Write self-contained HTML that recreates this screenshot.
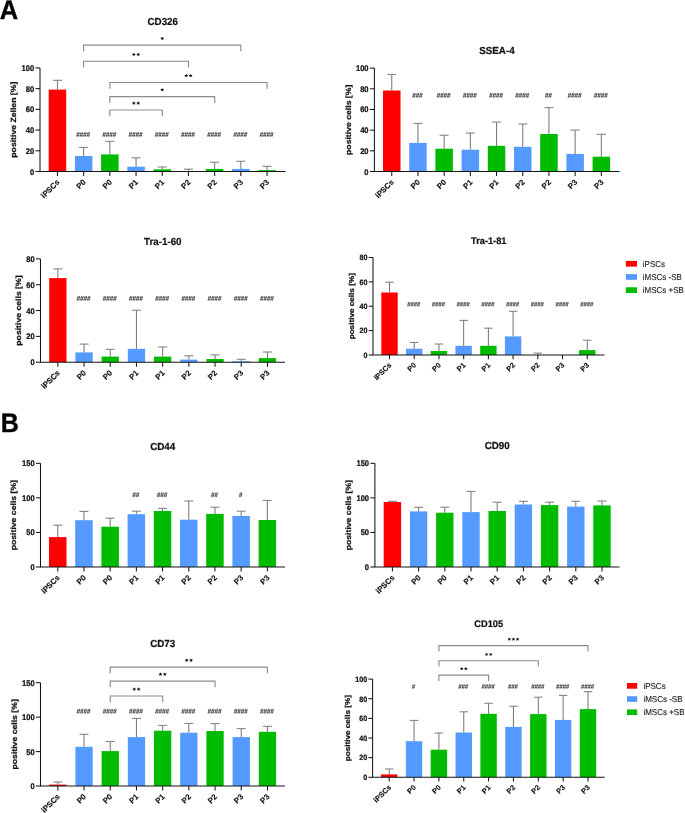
<!DOCTYPE html>
<html><head><meta charset="utf-8"><style>
html,body{margin:0;padding:0;background:#fff;width:685px;height:813px;overflow:hidden}
svg{display:block;will-change:transform}
text{font-family:"Liberation Sans",sans-serif;text-rendering:geometricPrecision}
</style></head><body>
<svg width="685" height="813" viewBox="0 0 685 813">
<rect width="685" height="813" fill="#fff"/>
<rect x="48.70" y="89.60" width="17.50" height="81.90" fill="#ff0000"/>
<line x1="57.45" y1="89.60" x2="57.45" y2="80.30" stroke="#6a6a6a" stroke-width="0.95"/>
<line x1="52.95" y1="80.30" x2="61.95" y2="80.30" stroke="#858585" stroke-width="1.1"/>
<line x1="57.45" y1="171.50" x2="57.45" y2="176.00" stroke="#151515" stroke-width="1.05"/>
<text transform="translate(60.05 182.70) rotate(-45)" text-anchor="end" font-size="7.80" font-weight="bold" fill="#111" stroke="#111" stroke-width="0.15">iPSCs</text>
<rect x="74.90" y="156.00" width="17.50" height="15.50" fill="#559bff"/>
<line x1="83.65" y1="156.00" x2="83.65" y2="147.40" stroke="#6a6a6a" stroke-width="0.95"/>
<line x1="79.15" y1="147.40" x2="88.15" y2="147.40" stroke="#858585" stroke-width="1.1"/>
<line x1="83.65" y1="171.50" x2="83.65" y2="176.00" stroke="#151515" stroke-width="1.05"/>
<text transform="translate(86.25 182.70) rotate(-45)" text-anchor="end" font-size="7.80" font-weight="bold" fill="#111" stroke="#111" stroke-width="0.15">P0</text>
<path d="M76.74 136.85L77.77 132.15M78.18 136.85L79.21 132.15M80.19 136.85L81.22 132.15M81.63 136.85L82.66 132.15M83.64 136.85L84.67 132.15M85.08 136.85L86.11 132.15M87.09 136.85L88.12 132.15M88.53 136.85L89.56 132.15" stroke="#3a3a3a" stroke-width="0.72" fill="none"/>
<path d="M76.65 133.50h3.10M76.21 135.50h3.10M80.10 133.50h3.10M79.66 135.50h3.10M83.55 133.50h3.10M83.11 135.50h3.10M87.00 133.50h3.10M86.56 135.50h3.10" stroke="#3a3a3a" stroke-width="0.55" fill="none"/>
<rect x="101.10" y="154.40" width="17.50" height="17.10" fill="#00bb00"/>
<line x1="109.85" y1="154.40" x2="109.85" y2="141.30" stroke="#6a6a6a" stroke-width="0.95"/>
<line x1="105.35" y1="141.30" x2="114.35" y2="141.30" stroke="#858585" stroke-width="1.1"/>
<line x1="109.85" y1="171.50" x2="109.85" y2="176.00" stroke="#151515" stroke-width="1.05"/>
<text transform="translate(112.45 182.70) rotate(-45)" text-anchor="end" font-size="7.80" font-weight="bold" fill="#111" stroke="#111" stroke-width="0.15">P0</text>
<path d="M102.94 136.85L103.97 132.15M104.38 136.85L105.41 132.15M106.39 136.85L107.42 132.15M107.83 136.85L108.86 132.15M109.84 136.85L110.87 132.15M111.28 136.85L112.31 132.15M113.29 136.85L114.32 132.15M114.73 136.85L115.76 132.15" stroke="#3a3a3a" stroke-width="0.72" fill="none"/>
<path d="M102.84 133.50h3.10M102.41 135.50h3.10M106.30 133.50h3.10M105.86 135.50h3.10M109.75 133.50h3.10M109.31 135.50h3.10M113.20 133.50h3.10M112.76 135.50h3.10" stroke="#3a3a3a" stroke-width="0.55" fill="none"/>
<rect x="127.30" y="166.70" width="17.50" height="4.80" fill="#559bff"/>
<line x1="136.05" y1="166.70" x2="136.05" y2="157.80" stroke="#6a6a6a" stroke-width="0.95"/>
<line x1="131.55" y1="157.80" x2="140.55" y2="157.80" stroke="#858585" stroke-width="1.1"/>
<line x1="136.05" y1="171.50" x2="136.05" y2="176.00" stroke="#151515" stroke-width="1.05"/>
<text transform="translate(138.65 182.70) rotate(-45)" text-anchor="end" font-size="7.80" font-weight="bold" fill="#111" stroke="#111" stroke-width="0.15">P1</text>
<path d="M129.14 136.85L130.17 132.15M130.58 136.85L131.61 132.15M132.59 136.85L133.62 132.15M134.03 136.85L135.06 132.15M136.04 136.85L137.07 132.15M137.48 136.85L138.51 132.15M139.49 136.85L140.52 132.15M140.93 136.85L141.96 132.15" stroke="#3a3a3a" stroke-width="0.72" fill="none"/>
<path d="M129.04 133.50h3.10M128.60 135.50h3.10M132.49 133.50h3.10M132.05 135.50h3.10M135.94 133.50h3.10M135.50 135.50h3.10M139.39 133.50h3.10M138.95 135.50h3.10" stroke="#3a3a3a" stroke-width="0.55" fill="none"/>
<rect x="153.50" y="169.30" width="17.50" height="2.20" fill="#00bb00"/>
<line x1="162.25" y1="169.30" x2="162.25" y2="167.00" stroke="#6a6a6a" stroke-width="0.95"/>
<line x1="157.75" y1="167.00" x2="166.75" y2="167.00" stroke="#858585" stroke-width="1.1"/>
<line x1="162.25" y1="171.50" x2="162.25" y2="176.00" stroke="#151515" stroke-width="1.05"/>
<text transform="translate(164.85 182.70) rotate(-45)" text-anchor="end" font-size="7.80" font-weight="bold" fill="#111" stroke="#111" stroke-width="0.15">P1</text>
<path d="M155.34 136.85L156.37 132.15M156.78 136.85L157.81 132.15M158.79 136.85L159.82 132.15M160.23 136.85L161.26 132.15M162.24 136.85L163.27 132.15M163.68 136.85L164.71 132.15M165.69 136.85L166.72 132.15M167.13 136.85L168.16 132.15" stroke="#3a3a3a" stroke-width="0.72" fill="none"/>
<path d="M155.24 133.50h3.10M154.80 135.50h3.10M158.69 133.50h3.10M158.25 135.50h3.10M162.14 133.50h3.10M161.70 135.50h3.10M165.59 133.50h3.10M165.15 135.50h3.10" stroke="#3a3a3a" stroke-width="0.55" fill="none"/>
<rect x="179.70" y="171.00" width="17.50" height="0.50" fill="#559bff"/>
<line x1="188.45" y1="171.00" x2="188.45" y2="169.20" stroke="#6a6a6a" stroke-width="0.95"/>
<line x1="183.95" y1="169.20" x2="192.95" y2="169.20" stroke="#858585" stroke-width="1.1"/>
<line x1="188.45" y1="171.50" x2="188.45" y2="176.00" stroke="#151515" stroke-width="1.05"/>
<text transform="translate(191.05 182.70) rotate(-45)" text-anchor="end" font-size="7.80" font-weight="bold" fill="#111" stroke="#111" stroke-width="0.15">P2</text>
<path d="M181.54 136.85L182.57 132.15M182.98 136.85L184.01 132.15M184.99 136.85L186.02 132.15M186.43 136.85L187.46 132.15M188.44 136.85L189.47 132.15M189.88 136.85L190.91 132.15M191.89 136.85L192.92 132.15M193.33 136.85L194.36 132.15" stroke="#3a3a3a" stroke-width="0.72" fill="none"/>
<path d="M181.44 133.50h3.10M181.00 135.50h3.10M184.89 133.50h3.10M184.45 135.50h3.10M188.34 133.50h3.10M187.90 135.50h3.10M191.79 133.50h3.10M191.35 135.50h3.10" stroke="#3a3a3a" stroke-width="0.55" fill="none"/>
<rect x="205.90" y="168.90" width="17.50" height="2.60" fill="#00bb00"/>
<line x1="214.65" y1="168.90" x2="214.65" y2="162.20" stroke="#6a6a6a" stroke-width="0.95"/>
<line x1="210.15" y1="162.20" x2="219.15" y2="162.20" stroke="#858585" stroke-width="1.1"/>
<line x1="214.65" y1="171.50" x2="214.65" y2="176.00" stroke="#151515" stroke-width="1.05"/>
<text transform="translate(217.25 182.70) rotate(-45)" text-anchor="end" font-size="7.80" font-weight="bold" fill="#111" stroke="#111" stroke-width="0.15">P2</text>
<path d="M207.74 136.85L208.77 132.15M209.18 136.85L210.21 132.15M211.19 136.85L212.22 132.15M212.63 136.85L213.66 132.15M214.64 136.85L215.67 132.15M216.08 136.85L217.11 132.15M218.09 136.85L219.12 132.15M219.53 136.85L220.56 132.15" stroke="#3a3a3a" stroke-width="0.72" fill="none"/>
<path d="M207.64 133.50h3.10M207.20 135.50h3.10M211.09 133.50h3.10M210.65 135.50h3.10M214.54 133.50h3.10M214.10 135.50h3.10M217.99 133.50h3.10M217.55 135.50h3.10" stroke="#3a3a3a" stroke-width="0.55" fill="none"/>
<rect x="232.10" y="168.90" width="17.50" height="2.60" fill="#559bff"/>
<line x1="240.85" y1="168.90" x2="240.85" y2="161.30" stroke="#6a6a6a" stroke-width="0.95"/>
<line x1="236.35" y1="161.30" x2="245.35" y2="161.30" stroke="#858585" stroke-width="1.1"/>
<line x1="240.85" y1="171.50" x2="240.85" y2="176.00" stroke="#151515" stroke-width="1.05"/>
<text transform="translate(243.45 182.70) rotate(-45)" text-anchor="end" font-size="7.80" font-weight="bold" fill="#111" stroke="#111" stroke-width="0.15">P3</text>
<path d="M233.94 136.85L234.97 132.15M235.38 136.85L236.41 132.15M237.39 136.85L238.42 132.15M238.83 136.85L239.86 132.15M240.84 136.85L241.87 132.15M242.28 136.85L243.31 132.15M244.29 136.85L245.32 132.15M245.73 136.85L246.76 132.15" stroke="#3a3a3a" stroke-width="0.72" fill="none"/>
<path d="M233.84 133.50h3.10M233.41 135.50h3.10M237.29 133.50h3.10M236.85 135.50h3.10M240.75 133.50h3.10M240.31 135.50h3.10M244.19 133.50h3.10M243.75 135.50h3.10" stroke="#3a3a3a" stroke-width="0.55" fill="none"/>
<rect x="258.30" y="170.10" width="17.50" height="1.40" fill="#00bb00"/>
<line x1="267.05" y1="170.10" x2="267.05" y2="166.30" stroke="#6a6a6a" stroke-width="0.95"/>
<line x1="262.55" y1="166.30" x2="271.55" y2="166.30" stroke="#858585" stroke-width="1.1"/>
<line x1="267.05" y1="171.50" x2="267.05" y2="176.00" stroke="#151515" stroke-width="1.05"/>
<text transform="translate(269.65 182.70) rotate(-45)" text-anchor="end" font-size="7.80" font-weight="bold" fill="#111" stroke="#111" stroke-width="0.15">P3</text>
<path d="M260.14 136.85L261.17 132.15M261.58 136.85L262.61 132.15M263.59 136.85L264.62 132.15M265.03 136.85L266.06 132.15M267.04 136.85L268.07 132.15M268.48 136.85L269.51 132.15M270.49 136.85L271.52 132.15M271.93 136.85L272.96 132.15" stroke="#3a3a3a" stroke-width="0.72" fill="none"/>
<path d="M260.05 133.50h3.10M259.60 135.50h3.10M263.50 133.50h3.10M263.05 135.50h3.10M266.94 133.50h3.10M266.50 135.50h3.10M270.40 133.50h3.10M269.95 135.50h3.10" stroke="#3a3a3a" stroke-width="0.55" fill="none"/>
<path d="M40.00 67.90 V171.50 H285.50" fill="none" stroke="#151515" stroke-width="1.05"/>
<line x1="35.50" y1="171.50" x2="40.00" y2="171.50" stroke="#151515" stroke-width="1.05"/>
<text transform="translate(34.20 174.50) scale(1 1.08)" text-anchor="end" font-size="7.60" font-weight="bold" fill="#111" stroke="#111" stroke-width="0.22">0</text>
<line x1="35.50" y1="150.78" x2="40.00" y2="150.78" stroke="#151515" stroke-width="1.05"/>
<text transform="translate(34.20 153.78) scale(1 1.08)" text-anchor="end" font-size="7.60" font-weight="bold" fill="#111" stroke="#111" stroke-width="0.22">20</text>
<line x1="35.50" y1="130.06" x2="40.00" y2="130.06" stroke="#151515" stroke-width="1.05"/>
<text transform="translate(34.20 133.06) scale(1 1.08)" text-anchor="end" font-size="7.60" font-weight="bold" fill="#111" stroke="#111" stroke-width="0.22">40</text>
<line x1="35.50" y1="109.34" x2="40.00" y2="109.34" stroke="#151515" stroke-width="1.05"/>
<text transform="translate(34.20 112.34) scale(1 1.08)" text-anchor="end" font-size="7.60" font-weight="bold" fill="#111" stroke="#111" stroke-width="0.22">60</text>
<line x1="35.50" y1="88.62" x2="40.00" y2="88.62" stroke="#151515" stroke-width="1.05"/>
<text transform="translate(34.20 91.62) scale(1 1.08)" text-anchor="end" font-size="7.60" font-weight="bold" fill="#111" stroke="#111" stroke-width="0.22">80</text>
<line x1="35.50" y1="67.90" x2="40.00" y2="67.90" stroke="#151515" stroke-width="1.05"/>
<text transform="translate(34.20 70.90) scale(1 1.08)" text-anchor="end" font-size="7.60" font-weight="bold" fill="#111" stroke="#111" stroke-width="0.22">100</text>
<text transform="translate(16.20 119.70) rotate(-90) scale(1.14 1)" text-anchor="middle" font-size="7.60" font-weight="bold" fill="#111" stroke="#111" stroke-width="0.22">positive Zellen [%]</text>
<text transform="translate(162.75 24.90) scale(1 1.04)" text-anchor="middle" font-size="9.80" font-weight="bold" fill="#111" stroke="#111" stroke-width="0.22">CD326</text>
<path d="M83.65 51.35 V45.15 H240.85 V51.35" fill="none" stroke="#8c8c8c" stroke-width="1.15"/>
<polygon points="162.25,36.57 162.84,37.71 164.29,37.84 163.20,38.66 163.51,39.88 162.25,39.25 160.99,39.88 161.30,38.66 160.21,37.84 161.66,37.71" fill="#111"/>
<path d="M83.65 67.45 V61.25 H188.45 V67.45" fill="none" stroke="#8c8c8c" stroke-width="1.15"/>
<polygon points="133.85,52.67 134.44,53.81 135.89,53.94 134.80,54.76 135.11,55.98 133.85,55.35 132.59,55.98 132.90,54.76 131.81,53.94 133.26,53.81" fill="#111"/>
<polygon points="138.25,52.67 138.84,53.81 140.29,53.94 139.20,54.76 139.51,55.98 138.25,55.35 136.99,55.98 137.30,54.76 136.21,53.94 137.66,53.81" fill="#111"/>
<path d="M109.85 88.65 V82.45 H267.05 V88.65" fill="none" stroke="#8c8c8c" stroke-width="1.15"/>
<polygon points="186.25,73.87 186.84,75.01 188.29,75.14 187.20,75.96 187.51,77.18 186.25,76.55 184.99,77.18 185.30,75.96 184.21,75.14 185.66,75.01" fill="#111"/>
<polygon points="190.65,73.87 191.24,75.01 192.69,75.14 191.60,75.96 191.91,77.18 190.65,76.55 189.39,77.18 189.70,75.96 188.61,75.14 190.06,75.01" fill="#111"/>
<path d="M109.85 102.75 V96.55 H214.65 V102.75" fill="none" stroke="#8c8c8c" stroke-width="1.15"/>
<polygon points="162.25,87.97 162.84,89.11 164.29,89.24 163.20,90.06 163.51,91.28 162.25,90.65 160.99,91.28 161.30,90.06 160.21,89.24 161.66,89.11" fill="#111"/>
<path d="M109.85 116.15 V109.95 H162.25 V116.15" fill="none" stroke="#8c8c8c" stroke-width="1.15"/>
<polygon points="133.85,101.37 134.44,102.51 135.89,102.64 134.80,103.46 135.11,104.68 133.85,104.05 132.59,104.68 132.90,103.46 131.81,102.64 133.26,102.51" fill="#111"/>
<polygon points="138.25,101.37 138.84,102.51 140.29,102.64 139.20,103.46 139.51,104.68 138.25,104.05 136.99,104.68 137.30,103.46 136.21,102.64 137.66,102.51" fill="#111"/>
<rect x="383.00" y="90.50" width="17.50" height="81.00" fill="#ff0000"/>
<line x1="391.75" y1="90.50" x2="391.75" y2="74.50" stroke="#6a6a6a" stroke-width="0.95"/>
<line x1="387.25" y1="74.50" x2="396.25" y2="74.50" stroke="#858585" stroke-width="1.1"/>
<line x1="391.75" y1="171.50" x2="391.75" y2="176.00" stroke="#151515" stroke-width="1.05"/>
<text transform="translate(394.35 182.70) rotate(-45)" text-anchor="end" font-size="7.80" font-weight="bold" fill="#111" stroke="#111" stroke-width="0.15">iPSCs</text>
<rect x="409.20" y="142.90" width="17.50" height="28.60" fill="#559bff"/>
<line x1="417.95" y1="142.90" x2="417.95" y2="123.40" stroke="#6a6a6a" stroke-width="0.95"/>
<line x1="413.45" y1="123.40" x2="422.45" y2="123.40" stroke="#858585" stroke-width="1.1"/>
<line x1="417.95" y1="171.50" x2="417.95" y2="176.00" stroke="#151515" stroke-width="1.05"/>
<text transform="translate(420.55 182.70) rotate(-45)" text-anchor="end" font-size="7.80" font-weight="bold" fill="#111" stroke="#111" stroke-width="0.15">P0</text>
<path d="M412.76 97.65L413.80 92.95M414.20 97.65L415.24 92.95M416.21 97.65L417.25 92.95M417.65 97.65L418.69 92.95M419.66 97.65L420.70 92.95M421.10 97.65L422.14 92.95" stroke="#3a3a3a" stroke-width="0.72" fill="none"/>
<path d="M412.67 94.30h3.10M412.23 96.30h3.10M416.12 94.30h3.10M415.68 96.30h3.10M419.57 94.30h3.10M419.13 96.30h3.10" stroke="#3a3a3a" stroke-width="0.55" fill="none"/>
<rect x="435.40" y="148.70" width="17.50" height="22.80" fill="#00bb00"/>
<line x1="444.15" y1="148.70" x2="444.15" y2="135.20" stroke="#6a6a6a" stroke-width="0.95"/>
<line x1="439.65" y1="135.20" x2="448.65" y2="135.20" stroke="#858585" stroke-width="1.1"/>
<line x1="444.15" y1="171.50" x2="444.15" y2="176.00" stroke="#151515" stroke-width="1.05"/>
<text transform="translate(446.75 182.70) rotate(-45)" text-anchor="end" font-size="7.80" font-weight="bold" fill="#111" stroke="#111" stroke-width="0.15">P0</text>
<path d="M437.24 97.65L438.27 92.95M438.68 97.65L439.71 92.95M440.69 97.65L441.72 92.95M442.13 97.65L443.16 92.95M444.14 97.65L445.17 92.95M445.58 97.65L446.61 92.95M447.59 97.65L448.62 92.95M449.03 97.65L450.06 92.95" stroke="#3a3a3a" stroke-width="0.72" fill="none"/>
<path d="M437.14 94.30h3.10M436.70 96.30h3.10M440.59 94.30h3.10M440.15 96.30h3.10M444.04 94.30h3.10M443.60 96.30h3.10M447.50 94.30h3.10M447.05 96.30h3.10" stroke="#3a3a3a" stroke-width="0.55" fill="none"/>
<rect x="461.60" y="149.70" width="17.50" height="21.80" fill="#559bff"/>
<line x1="470.35" y1="149.70" x2="470.35" y2="133.00" stroke="#6a6a6a" stroke-width="0.95"/>
<line x1="465.85" y1="133.00" x2="474.85" y2="133.00" stroke="#858585" stroke-width="1.1"/>
<line x1="470.35" y1="171.50" x2="470.35" y2="176.00" stroke="#151515" stroke-width="1.05"/>
<text transform="translate(472.95 182.70) rotate(-45)" text-anchor="end" font-size="7.80" font-weight="bold" fill="#111" stroke="#111" stroke-width="0.15">P1</text>
<path d="M463.44 97.65L464.47 92.95M464.88 97.65L465.91 92.95M466.89 97.65L467.92 92.95M468.33 97.65L469.36 92.95M470.34 97.65L471.37 92.95M471.78 97.65L472.81 92.95M473.79 97.65L474.82 92.95M475.23 97.65L476.26 92.95" stroke="#3a3a3a" stroke-width="0.72" fill="none"/>
<path d="M463.35 94.30h3.10M462.90 96.30h3.10M466.80 94.30h3.10M466.35 96.30h3.10M470.25 94.30h3.10M469.80 96.30h3.10M473.70 94.30h3.10M473.25 96.30h3.10" stroke="#3a3a3a" stroke-width="0.55" fill="none"/>
<rect x="487.80" y="145.80" width="17.50" height="25.70" fill="#00bb00"/>
<line x1="496.55" y1="145.80" x2="496.55" y2="122.10" stroke="#6a6a6a" stroke-width="0.95"/>
<line x1="492.05" y1="122.10" x2="501.05" y2="122.10" stroke="#858585" stroke-width="1.1"/>
<line x1="496.55" y1="171.50" x2="496.55" y2="176.00" stroke="#151515" stroke-width="1.05"/>
<text transform="translate(499.15 182.70) rotate(-45)" text-anchor="end" font-size="7.80" font-weight="bold" fill="#111" stroke="#111" stroke-width="0.15">P1</text>
<path d="M489.64 97.65L490.67 92.95M491.08 97.65L492.11 92.95M493.09 97.65L494.12 92.95M494.53 97.65L495.56 92.95M496.54 97.65L497.57 92.95M497.98 97.65L499.01 92.95M499.99 97.65L501.02 92.95M501.43 97.65L502.46 92.95" stroke="#3a3a3a" stroke-width="0.72" fill="none"/>
<path d="M489.55 94.30h3.10M489.10 96.30h3.10M493.00 94.30h3.10M492.55 96.30h3.10M496.44 94.30h3.10M496.00 96.30h3.10M499.90 94.30h3.10M499.45 96.30h3.10" stroke="#3a3a3a" stroke-width="0.55" fill="none"/>
<rect x="514.00" y="146.80" width="17.50" height="24.70" fill="#559bff"/>
<line x1="522.75" y1="146.80" x2="522.75" y2="124.00" stroke="#6a6a6a" stroke-width="0.95"/>
<line x1="518.25" y1="124.00" x2="527.25" y2="124.00" stroke="#858585" stroke-width="1.1"/>
<line x1="522.75" y1="171.50" x2="522.75" y2="176.00" stroke="#151515" stroke-width="1.05"/>
<text transform="translate(525.35 182.70) rotate(-45)" text-anchor="end" font-size="7.80" font-weight="bold" fill="#111" stroke="#111" stroke-width="0.15">P2</text>
<path d="M515.84 97.65L516.87 92.95M517.28 97.65L518.31 92.95M519.29 97.65L520.32 92.95M520.73 97.65L521.76 92.95M522.74 97.65L523.77 92.95M524.18 97.65L525.21 92.95M526.19 97.65L527.22 92.95M527.63 97.65L528.66 92.95" stroke="#3a3a3a" stroke-width="0.72" fill="none"/>
<path d="M515.75 94.30h3.10M515.31 96.30h3.10M519.20 94.30h3.10M518.76 96.30h3.10M522.65 94.30h3.10M522.21 96.30h3.10M526.10 94.30h3.10M525.66 96.30h3.10" stroke="#3a3a3a" stroke-width="0.55" fill="none"/>
<rect x="540.20" y="134.00" width="17.50" height="37.50" fill="#00bb00"/>
<line x1="548.95" y1="134.00" x2="548.95" y2="107.60" stroke="#6a6a6a" stroke-width="0.95"/>
<line x1="544.45" y1="107.60" x2="553.45" y2="107.60" stroke="#858585" stroke-width="1.1"/>
<line x1="548.95" y1="171.50" x2="548.95" y2="176.00" stroke="#151515" stroke-width="1.05"/>
<text transform="translate(551.55 182.70) rotate(-45)" text-anchor="end" font-size="7.80" font-weight="bold" fill="#111" stroke="#111" stroke-width="0.15">P2</text>
<path d="M545.49 97.65L546.52 92.95M546.93 97.65L547.96 92.95M548.94 97.65L549.97 92.95M550.38 97.65L551.41 92.95" stroke="#3a3a3a" stroke-width="0.72" fill="none"/>
<path d="M545.40 94.30h3.10M544.96 96.30h3.10M548.85 94.30h3.10M548.41 96.30h3.10" stroke="#3a3a3a" stroke-width="0.55" fill="none"/>
<rect x="566.40" y="153.90" width="17.50" height="17.60" fill="#559bff"/>
<line x1="575.15" y1="153.90" x2="575.15" y2="130.10" stroke="#6a6a6a" stroke-width="0.95"/>
<line x1="570.65" y1="130.10" x2="579.65" y2="130.10" stroke="#858585" stroke-width="1.1"/>
<line x1="575.15" y1="171.50" x2="575.15" y2="176.00" stroke="#151515" stroke-width="1.05"/>
<text transform="translate(577.75 182.70) rotate(-45)" text-anchor="end" font-size="7.80" font-weight="bold" fill="#111" stroke="#111" stroke-width="0.15">P3</text>
<path d="M568.24 97.65L569.27 92.95M569.68 97.65L570.71 92.95M571.69 97.65L572.72 92.95M573.13 97.65L574.16 92.95M575.14 97.65L576.17 92.95M576.58 97.65L577.61 92.95M578.59 97.65L579.62 92.95M580.03 97.65L581.06 92.95" stroke="#3a3a3a" stroke-width="0.72" fill="none"/>
<path d="M568.15 94.30h3.10M567.71 96.30h3.10M571.60 94.30h3.10M571.16 96.30h3.10M575.05 94.30h3.10M574.61 96.30h3.10M578.50 94.30h3.10M578.06 96.30h3.10" stroke="#3a3a3a" stroke-width="0.55" fill="none"/>
<rect x="592.60" y="156.70" width="17.50" height="14.80" fill="#00bb00"/>
<line x1="601.35" y1="156.70" x2="601.35" y2="134.30" stroke="#6a6a6a" stroke-width="0.95"/>
<line x1="596.85" y1="134.30" x2="605.85" y2="134.30" stroke="#858585" stroke-width="1.1"/>
<line x1="601.35" y1="171.50" x2="601.35" y2="176.00" stroke="#151515" stroke-width="1.05"/>
<text transform="translate(603.95 182.70) rotate(-45)" text-anchor="end" font-size="7.80" font-weight="bold" fill="#111" stroke="#111" stroke-width="0.15">P3</text>
<path d="M594.44 97.65L595.47 92.95M595.88 97.65L596.91 92.95M597.89 97.65L598.92 92.95M599.33 97.65L600.36 92.95M601.34 97.65L602.37 92.95M602.78 97.65L603.81 92.95M604.79 97.65L605.82 92.95M606.23 97.65L607.26 92.95" stroke="#3a3a3a" stroke-width="0.72" fill="none"/>
<path d="M594.35 94.30h3.10M593.91 96.30h3.10M597.80 94.30h3.10M597.36 96.30h3.10M601.25 94.30h3.10M600.81 96.30h3.10M604.70 94.30h3.10M604.26 96.30h3.10" stroke="#3a3a3a" stroke-width="0.55" fill="none"/>
<path d="M374.40 68.10 V171.50 H619.50" fill="none" stroke="#151515" stroke-width="1.05"/>
<line x1="369.90" y1="171.50" x2="374.40" y2="171.50" stroke="#151515" stroke-width="1.05"/>
<text transform="translate(368.60 174.50) scale(1 1.08)" text-anchor="end" font-size="7.60" font-weight="bold" fill="#111" stroke="#111" stroke-width="0.22">0</text>
<line x1="369.90" y1="150.82" x2="374.40" y2="150.82" stroke="#151515" stroke-width="1.05"/>
<text transform="translate(368.60 153.82) scale(1 1.08)" text-anchor="end" font-size="7.60" font-weight="bold" fill="#111" stroke="#111" stroke-width="0.22">20</text>
<line x1="369.90" y1="130.14" x2="374.40" y2="130.14" stroke="#151515" stroke-width="1.05"/>
<text transform="translate(368.60 133.14) scale(1 1.08)" text-anchor="end" font-size="7.60" font-weight="bold" fill="#111" stroke="#111" stroke-width="0.22">40</text>
<line x1="369.90" y1="109.46" x2="374.40" y2="109.46" stroke="#151515" stroke-width="1.05"/>
<text transform="translate(368.60 112.46) scale(1 1.08)" text-anchor="end" font-size="7.60" font-weight="bold" fill="#111" stroke="#111" stroke-width="0.22">60</text>
<line x1="369.90" y1="88.78" x2="374.40" y2="88.78" stroke="#151515" stroke-width="1.05"/>
<text transform="translate(368.60 91.78) scale(1 1.08)" text-anchor="end" font-size="7.60" font-weight="bold" fill="#111" stroke="#111" stroke-width="0.22">80</text>
<line x1="369.90" y1="68.10" x2="374.40" y2="68.10" stroke="#151515" stroke-width="1.05"/>
<text transform="translate(368.60 71.10) scale(1 1.08)" text-anchor="end" font-size="7.60" font-weight="bold" fill="#111" stroke="#111" stroke-width="0.22">100</text>
<text transform="translate(350.50 119.80) rotate(-90) scale(1.14 1)" text-anchor="middle" font-size="7.60" font-weight="bold" fill="#111" stroke="#111" stroke-width="0.22">positive cells [%]</text>
<text transform="translate(496.95 53.90) scale(1 1.04)" text-anchor="middle" font-size="9.80" font-weight="bold" fill="#111" stroke="#111" stroke-width="0.22">SSEA-4</text>
<rect x="49.20" y="278.10" width="17.30" height="84.10" fill="#ff0000"/>
<line x1="57.85" y1="278.10" x2="57.85" y2="268.90" stroke="#6a6a6a" stroke-width="0.95"/>
<line x1="53.35" y1="268.90" x2="62.35" y2="268.90" stroke="#858585" stroke-width="1.1"/>
<line x1="57.85" y1="362.20" x2="57.85" y2="366.70" stroke="#151515" stroke-width="1.05"/>
<text transform="translate(60.45 373.40) rotate(-45)" text-anchor="end" font-size="7.80" font-weight="bold" fill="#111" stroke="#111" stroke-width="0.15">iPSCs</text>
<rect x="75.40" y="352.40" width="17.30" height="9.80" fill="#559bff"/>
<line x1="84.05" y1="352.40" x2="84.05" y2="344.10" stroke="#6a6a6a" stroke-width="0.95"/>
<line x1="79.55" y1="344.10" x2="88.55" y2="344.10" stroke="#858585" stroke-width="1.1"/>
<line x1="84.05" y1="362.20" x2="84.05" y2="366.70" stroke="#151515" stroke-width="1.05"/>
<text transform="translate(86.65 373.40) rotate(-45)" text-anchor="end" font-size="7.80" font-weight="bold" fill="#111" stroke="#111" stroke-width="0.15">P0</text>
<path d="M77.14 300.75L78.17 296.05M78.58 300.75L79.61 296.05M80.59 300.75L81.62 296.05M82.03 300.75L83.06 296.05M84.04 300.75L85.07 296.05M85.48 300.75L86.51 296.05M87.49 300.75L88.52 296.05M88.93 300.75L89.96 296.05" stroke="#3a3a3a" stroke-width="0.72" fill="none"/>
<path d="M77.05 297.40h3.10M76.61 299.40h3.10M80.50 297.40h3.10M80.06 299.40h3.10M83.95 297.40h3.10M83.51 299.40h3.10M87.40 297.40h3.10M86.96 299.40h3.10" stroke="#3a3a3a" stroke-width="0.55" fill="none"/>
<rect x="101.60" y="356.60" width="17.30" height="5.60" fill="#00bb00"/>
<line x1="110.25" y1="356.60" x2="110.25" y2="349.30" stroke="#6a6a6a" stroke-width="0.95"/>
<line x1="105.75" y1="349.30" x2="114.75" y2="349.30" stroke="#858585" stroke-width="1.1"/>
<line x1="110.25" y1="362.20" x2="110.25" y2="366.70" stroke="#151515" stroke-width="1.05"/>
<text transform="translate(112.85 373.40) rotate(-45)" text-anchor="end" font-size="7.80" font-weight="bold" fill="#111" stroke="#111" stroke-width="0.15">P0</text>
<path d="M103.34 300.75L104.37 296.05M104.78 300.75L105.81 296.05M106.79 300.75L107.82 296.05M108.23 300.75L109.26 296.05M110.24 300.75L111.27 296.05M111.68 300.75L112.71 296.05M113.69 300.75L114.72 296.05M115.13 300.75L116.16 296.05" stroke="#3a3a3a" stroke-width="0.72" fill="none"/>
<path d="M103.25 297.40h3.10M102.81 299.40h3.10M106.70 297.40h3.10M106.26 299.40h3.10M110.15 297.40h3.10M109.71 299.40h3.10M113.60 297.40h3.10M113.16 299.40h3.10" stroke="#3a3a3a" stroke-width="0.55" fill="none"/>
<rect x="127.80" y="348.80" width="17.30" height="13.40" fill="#559bff"/>
<line x1="136.45" y1="348.80" x2="136.45" y2="310.20" stroke="#6a6a6a" stroke-width="0.95"/>
<line x1="131.95" y1="310.20" x2="140.95" y2="310.20" stroke="#858585" stroke-width="1.1"/>
<line x1="136.45" y1="362.20" x2="136.45" y2="366.70" stroke="#151515" stroke-width="1.05"/>
<text transform="translate(139.05 373.40) rotate(-45)" text-anchor="end" font-size="7.80" font-weight="bold" fill="#111" stroke="#111" stroke-width="0.15">P1</text>
<path d="M129.54 300.75L130.57 296.05M130.98 300.75L132.01 296.05M132.99 300.75L134.02 296.05M134.43 300.75L135.46 296.05M136.44 300.75L137.47 296.05M137.88 300.75L138.91 296.05M139.89 300.75L140.92 296.05M141.33 300.75L142.36 296.05" stroke="#3a3a3a" stroke-width="0.72" fill="none"/>
<path d="M129.44 297.40h3.10M129.00 299.40h3.10M132.89 297.40h3.10M132.45 299.40h3.10M136.34 297.40h3.10M135.90 299.40h3.10M139.79 297.40h3.10M139.35 299.40h3.10" stroke="#3a3a3a" stroke-width="0.55" fill="none"/>
<rect x="154.00" y="356.60" width="17.30" height="5.60" fill="#00bb00"/>
<line x1="162.65" y1="356.60" x2="162.65" y2="347.00" stroke="#6a6a6a" stroke-width="0.95"/>
<line x1="158.15" y1="347.00" x2="167.15" y2="347.00" stroke="#858585" stroke-width="1.1"/>
<line x1="162.65" y1="362.20" x2="162.65" y2="366.70" stroke="#151515" stroke-width="1.05"/>
<text transform="translate(165.25 373.40) rotate(-45)" text-anchor="end" font-size="7.80" font-weight="bold" fill="#111" stroke="#111" stroke-width="0.15">P1</text>
<path d="M155.74 300.75L156.77 296.05M157.18 300.75L158.21 296.05M159.19 300.75L160.22 296.05M160.63 300.75L161.66 296.05M162.64 300.75L163.67 296.05M164.08 300.75L165.11 296.05M166.09 300.75L167.12 296.05M167.53 300.75L168.56 296.05" stroke="#3a3a3a" stroke-width="0.72" fill="none"/>
<path d="M155.64 297.40h3.10M155.20 299.40h3.10M159.09 297.40h3.10M158.65 299.40h3.10M162.54 297.40h3.10M162.10 299.40h3.10M165.99 297.40h3.10M165.55 299.40h3.10" stroke="#3a3a3a" stroke-width="0.55" fill="none"/>
<rect x="180.20" y="359.60" width="17.30" height="2.60" fill="#559bff"/>
<line x1="188.85" y1="359.60" x2="188.85" y2="355.80" stroke="#6a6a6a" stroke-width="0.95"/>
<line x1="184.35" y1="355.80" x2="193.35" y2="355.80" stroke="#858585" stroke-width="1.1"/>
<line x1="188.85" y1="362.20" x2="188.85" y2="366.70" stroke="#151515" stroke-width="1.05"/>
<text transform="translate(191.45 373.40) rotate(-45)" text-anchor="end" font-size="7.80" font-weight="bold" fill="#111" stroke="#111" stroke-width="0.15">P2</text>
<path d="M181.94 300.75L182.97 296.05M183.38 300.75L184.41 296.05M185.39 300.75L186.42 296.05M186.83 300.75L187.86 296.05M188.84 300.75L189.87 296.05M190.28 300.75L191.31 296.05M192.29 300.75L193.32 296.05M193.73 300.75L194.76 296.05" stroke="#3a3a3a" stroke-width="0.72" fill="none"/>
<path d="M181.84 297.40h3.10M181.40 299.40h3.10M185.29 297.40h3.10M184.85 299.40h3.10M188.74 297.40h3.10M188.30 299.40h3.10M192.19 297.40h3.10M191.75 299.40h3.10" stroke="#3a3a3a" stroke-width="0.55" fill="none"/>
<rect x="206.40" y="359.00" width="17.30" height="3.20" fill="#00bb00"/>
<line x1="215.05" y1="359.00" x2="215.05" y2="354.90" stroke="#6a6a6a" stroke-width="0.95"/>
<line x1="210.55" y1="354.90" x2="219.55" y2="354.90" stroke="#858585" stroke-width="1.1"/>
<line x1="215.05" y1="362.20" x2="215.05" y2="366.70" stroke="#151515" stroke-width="1.05"/>
<text transform="translate(217.65 373.40) rotate(-45)" text-anchor="end" font-size="7.80" font-weight="bold" fill="#111" stroke="#111" stroke-width="0.15">P2</text>
<path d="M208.14 300.75L209.17 296.05M209.58 300.75L210.61 296.05M211.59 300.75L212.62 296.05M213.03 300.75L214.06 296.05M215.04 300.75L216.07 296.05M216.48 300.75L217.51 296.05M218.49 300.75L219.52 296.05M219.93 300.75L220.96 296.05" stroke="#3a3a3a" stroke-width="0.72" fill="none"/>
<path d="M208.04 297.40h3.10M207.60 299.40h3.10M211.49 297.40h3.10M211.05 299.40h3.10M214.94 297.40h3.10M214.50 299.40h3.10M218.39 297.40h3.10M217.95 299.40h3.10" stroke="#3a3a3a" stroke-width="0.55" fill="none"/>
<rect x="232.60" y="361.30" width="17.30" height="0.90" fill="#559bff"/>
<line x1="241.25" y1="361.30" x2="241.25" y2="359.30" stroke="#6a6a6a" stroke-width="0.95"/>
<line x1="236.75" y1="359.30" x2="245.75" y2="359.30" stroke="#858585" stroke-width="1.1"/>
<line x1="241.25" y1="362.20" x2="241.25" y2="366.70" stroke="#151515" stroke-width="1.05"/>
<text transform="translate(243.85 373.40) rotate(-45)" text-anchor="end" font-size="7.80" font-weight="bold" fill="#111" stroke="#111" stroke-width="0.15">P3</text>
<path d="M234.34 300.75L235.37 296.05M235.78 300.75L236.81 296.05M237.79 300.75L238.82 296.05M239.23 300.75L240.26 296.05M241.24 300.75L242.27 296.05M242.68 300.75L243.71 296.05M244.69 300.75L245.72 296.05M246.13 300.75L247.16 296.05" stroke="#3a3a3a" stroke-width="0.72" fill="none"/>
<path d="M234.25 297.40h3.10M233.81 299.40h3.10M237.69 297.40h3.10M237.25 299.40h3.10M241.15 297.40h3.10M240.71 299.40h3.10M244.59 297.40h3.10M244.16 299.40h3.10" stroke="#3a3a3a" stroke-width="0.55" fill="none"/>
<rect x="258.80" y="358.10" width="17.30" height="4.10" fill="#00bb00"/>
<line x1="267.45" y1="358.10" x2="267.45" y2="352.00" stroke="#6a6a6a" stroke-width="0.95"/>
<line x1="262.95" y1="352.00" x2="271.95" y2="352.00" stroke="#858585" stroke-width="1.1"/>
<line x1="267.45" y1="362.20" x2="267.45" y2="366.70" stroke="#151515" stroke-width="1.05"/>
<text transform="translate(270.05 373.40) rotate(-45)" text-anchor="end" font-size="7.80" font-weight="bold" fill="#111" stroke="#111" stroke-width="0.15">P3</text>
<path d="M260.54 300.75L261.57 296.05M261.98 300.75L263.01 296.05M263.99 300.75L265.02 296.05M265.43 300.75L266.46 296.05M267.44 300.75L268.47 296.05M268.88 300.75L269.91 296.05M270.89 300.75L271.92 296.05M272.33 300.75L273.36 296.05" stroke="#3a3a3a" stroke-width="0.72" fill="none"/>
<path d="M260.44 297.40h3.10M260.00 299.40h3.10M263.89 297.40h3.10M263.45 299.40h3.10M267.34 297.40h3.10M266.90 299.40h3.10M270.80 297.40h3.10M270.35 299.40h3.10" stroke="#3a3a3a" stroke-width="0.55" fill="none"/>
<path d="M40.50 258.90 V362.20 H285.00" fill="none" stroke="#151515" stroke-width="1.05"/>
<line x1="36.00" y1="362.20" x2="40.50" y2="362.20" stroke="#151515" stroke-width="1.05"/>
<text transform="translate(34.70 365.20) scale(1 1.08)" text-anchor="end" font-size="7.60" font-weight="bold" fill="#111" stroke="#111" stroke-width="0.22">0</text>
<line x1="36.00" y1="336.38" x2="40.50" y2="336.38" stroke="#151515" stroke-width="1.05"/>
<text transform="translate(34.70 339.38) scale(1 1.08)" text-anchor="end" font-size="7.60" font-weight="bold" fill="#111" stroke="#111" stroke-width="0.22">20</text>
<line x1="36.00" y1="310.55" x2="40.50" y2="310.55" stroke="#151515" stroke-width="1.05"/>
<text transform="translate(34.70 313.55) scale(1 1.08)" text-anchor="end" font-size="7.60" font-weight="bold" fill="#111" stroke="#111" stroke-width="0.22">40</text>
<line x1="36.00" y1="284.72" x2="40.50" y2="284.72" stroke="#151515" stroke-width="1.05"/>
<text transform="translate(34.70 287.72) scale(1 1.08)" text-anchor="end" font-size="7.60" font-weight="bold" fill="#111" stroke="#111" stroke-width="0.22">60</text>
<line x1="36.00" y1="258.90" x2="40.50" y2="258.90" stroke="#151515" stroke-width="1.05"/>
<text transform="translate(34.70 261.90) scale(1 1.08)" text-anchor="end" font-size="7.60" font-weight="bold" fill="#111" stroke="#111" stroke-width="0.22">80</text>
<text transform="translate(20.90 310.55) rotate(-90) scale(1.14 1)" text-anchor="middle" font-size="7.60" font-weight="bold" fill="#111" stroke="#111" stroke-width="0.22">positive cells [%]</text>
<text transform="translate(162.75 245.10) scale(1 1.04)" text-anchor="middle" font-size="9.80" font-weight="bold" fill="#111" stroke="#111" stroke-width="0.22">Tra-1-60</text>
<rect x="381.30" y="292.50" width="16.40" height="62.50" fill="#ff0000"/>
<line x1="389.50" y1="292.50" x2="389.50" y2="282.20" stroke="#6a6a6a" stroke-width="0.95"/>
<line x1="385.26" y1="282.20" x2="393.74" y2="282.20" stroke="#858585" stroke-width="1.1"/>
<line x1="389.50" y1="355.00" x2="389.50" y2="359.24" stroke="#151515" stroke-width="1.05"/>
<text transform="translate(391.95 365.56) rotate(-45)" text-anchor="end" font-size="7.36" font-weight="bold" fill="#111" stroke="#111" stroke-width="0.15">iPSCs</text>
<rect x="406.02" y="348.70" width="16.40" height="6.30" fill="#559bff"/>
<line x1="414.22" y1="348.70" x2="414.22" y2="342.50" stroke="#6a6a6a" stroke-width="0.95"/>
<line x1="409.98" y1="342.50" x2="418.46" y2="342.50" stroke="#858585" stroke-width="1.1"/>
<line x1="414.22" y1="355.00" x2="414.22" y2="359.24" stroke="#151515" stroke-width="1.05"/>
<text transform="translate(416.67 365.56) rotate(-45)" text-anchor="end" font-size="7.36" font-weight="bold" fill="#111" stroke="#111" stroke-width="0.15">P0</text>
<path d="M407.70 306.40L408.68 301.97M409.06 306.40L410.03 301.97M410.96 306.40L411.93 301.97M412.31 306.40L413.29 301.97M414.21 306.40L415.18 301.97M415.57 306.40L416.54 301.97M417.46 306.40L418.44 301.97M418.82 306.40L419.80 301.97" stroke="#3a3a3a" stroke-width="0.68" fill="none"/>
<path d="M407.61 303.25h2.92M407.20 305.13h2.92M410.87 303.25h2.92M410.45 305.13h2.92M414.12 303.25h2.92M413.71 305.13h2.92M417.37 303.25h2.92M416.96 305.13h2.92" stroke="#3a3a3a" stroke-width="0.52" fill="none"/>
<rect x="430.74" y="351.00" width="16.40" height="4.00" fill="#00bb00"/>
<line x1="438.94" y1="351.00" x2="438.94" y2="344.00" stroke="#6a6a6a" stroke-width="0.95"/>
<line x1="434.70" y1="344.00" x2="443.18" y2="344.00" stroke="#858585" stroke-width="1.1"/>
<line x1="438.94" y1="355.00" x2="438.94" y2="359.24" stroke="#151515" stroke-width="1.05"/>
<text transform="translate(441.39 365.56) rotate(-45)" text-anchor="end" font-size="7.36" font-weight="bold" fill="#111" stroke="#111" stroke-width="0.15">P0</text>
<path d="M432.42 306.40L433.40 301.97M433.78 306.40L434.75 301.97M435.68 306.40L436.65 301.97M437.03 306.40L438.01 301.97M438.93 306.40L439.90 301.97M440.29 306.40L441.26 301.97M442.18 306.40L443.16 301.97M443.54 306.40L444.52 301.97" stroke="#3a3a3a" stroke-width="0.68" fill="none"/>
<path d="M432.33 303.25h2.92M431.92 305.13h2.92M435.59 303.25h2.92M435.17 305.13h2.92M438.84 303.25h2.92M438.43 305.13h2.92M442.09 303.25h2.92M441.68 305.13h2.92" stroke="#3a3a3a" stroke-width="0.52" fill="none"/>
<rect x="455.46" y="345.80" width="16.40" height="9.20" fill="#559bff"/>
<line x1="463.66" y1="345.80" x2="463.66" y2="320.40" stroke="#6a6a6a" stroke-width="0.95"/>
<line x1="459.42" y1="320.40" x2="467.90" y2="320.40" stroke="#858585" stroke-width="1.1"/>
<line x1="463.66" y1="355.00" x2="463.66" y2="359.24" stroke="#151515" stroke-width="1.05"/>
<text transform="translate(466.11 365.56) rotate(-45)" text-anchor="end" font-size="7.36" font-weight="bold" fill="#111" stroke="#111" stroke-width="0.15">P1</text>
<path d="M457.14 306.40L458.12 301.97M458.50 306.40L459.47 301.97M460.40 306.40L461.37 301.97M461.75 306.40L462.73 301.97M463.65 306.40L464.62 301.97M465.01 306.40L465.98 301.97M466.90 306.40L467.88 301.97M468.26 306.40L469.24 301.97" stroke="#3a3a3a" stroke-width="0.68" fill="none"/>
<path d="M457.05 303.25h2.92M456.64 305.13h2.92M460.31 303.25h2.92M459.89 305.13h2.92M463.56 303.25h2.92M463.15 305.13h2.92M466.81 303.25h2.92M466.40 305.13h2.92" stroke="#3a3a3a" stroke-width="0.52" fill="none"/>
<rect x="480.18" y="345.80" width="16.40" height="9.20" fill="#00bb00"/>
<line x1="488.38" y1="345.80" x2="488.38" y2="328.20" stroke="#6a6a6a" stroke-width="0.95"/>
<line x1="484.14" y1="328.20" x2="492.62" y2="328.20" stroke="#858585" stroke-width="1.1"/>
<line x1="488.38" y1="355.00" x2="488.38" y2="359.24" stroke="#151515" stroke-width="1.05"/>
<text transform="translate(490.83 365.56) rotate(-45)" text-anchor="end" font-size="7.36" font-weight="bold" fill="#111" stroke="#111" stroke-width="0.15">P1</text>
<path d="M481.86 306.40L482.84 301.97M483.22 306.40L484.19 301.97M485.12 306.40L486.09 301.97M486.47 306.40L487.45 301.97M488.37 306.40L489.34 301.97M489.73 306.40L490.70 301.97M491.62 306.40L492.60 301.97M492.98 306.40L493.96 301.97" stroke="#3a3a3a" stroke-width="0.68" fill="none"/>
<path d="M481.77 303.25h2.92M481.36 305.13h2.92M485.03 303.25h2.92M484.61 305.13h2.92M488.28 303.25h2.92M487.87 305.13h2.92M491.53 303.25h2.92M491.12 305.13h2.92" stroke="#3a3a3a" stroke-width="0.52" fill="none"/>
<rect x="504.90" y="336.40" width="16.40" height="18.60" fill="#559bff"/>
<line x1="513.10" y1="336.40" x2="513.10" y2="311.30" stroke="#6a6a6a" stroke-width="0.95"/>
<line x1="508.86" y1="311.30" x2="517.34" y2="311.30" stroke="#858585" stroke-width="1.1"/>
<line x1="513.10" y1="355.00" x2="513.10" y2="359.24" stroke="#151515" stroke-width="1.05"/>
<text transform="translate(515.55 365.56) rotate(-45)" text-anchor="end" font-size="7.36" font-weight="bold" fill="#111" stroke="#111" stroke-width="0.15">P2</text>
<path d="M506.58 306.40L507.56 301.97M507.94 306.40L508.91 301.97M509.84 306.40L510.81 301.97M511.19 306.40L512.17 301.97M513.09 306.40L514.06 301.97M514.45 306.40L515.42 301.97M516.34 306.40L517.32 301.97M517.70 306.40L518.68 301.97" stroke="#3a3a3a" stroke-width="0.68" fill="none"/>
<path d="M506.49 303.25h2.92M506.08 305.13h2.92M509.75 303.25h2.92M509.33 305.13h2.92M513.00 303.25h2.92M512.59 305.13h2.92M516.25 303.25h2.92M515.84 305.13h2.92" stroke="#3a3a3a" stroke-width="0.52" fill="none"/>
<line x1="537.82" y1="355.00" x2="537.82" y2="353.10" stroke="#6a6a6a" stroke-width="0.95"/>
<line x1="533.58" y1="353.10" x2="542.06" y2="353.10" stroke="#858585" stroke-width="1.1"/>
<line x1="537.82" y1="355.00" x2="537.82" y2="359.24" stroke="#151515" stroke-width="1.05"/>
<text transform="translate(540.27 365.56) rotate(-45)" text-anchor="end" font-size="7.36" font-weight="bold" fill="#111" stroke="#111" stroke-width="0.15">P2</text>
<path d="M531.30 306.40L532.28 301.97M532.66 306.40L533.63 301.97M534.56 306.40L535.53 301.97M535.91 306.40L536.89 301.97M537.81 306.40L538.78 301.97M539.17 306.40L540.14 301.97M541.06 306.40L542.04 301.97M542.42 306.40L543.40 301.97" stroke="#3a3a3a" stroke-width="0.68" fill="none"/>
<path d="M531.21 303.25h2.92M530.80 305.13h2.92M534.47 303.25h2.92M534.05 305.13h2.92M537.72 303.25h2.92M537.31 305.13h2.92M540.97 303.25h2.92M540.56 305.13h2.92" stroke="#3a3a3a" stroke-width="0.52" fill="none"/>
<line x1="562.54" y1="355.00" x2="562.54" y2="359.24" stroke="#151515" stroke-width="1.05"/>
<text transform="translate(564.99 365.56) rotate(-45)" text-anchor="end" font-size="7.36" font-weight="bold" fill="#111" stroke="#111" stroke-width="0.15">P3</text>
<path d="M556.02 306.40L557.00 301.97M557.38 306.40L558.35 301.97M559.28 306.40L560.25 301.97M560.63 306.40L561.61 301.97M562.53 306.40L563.50 301.97M563.89 306.40L564.86 301.97M565.78 306.40L566.76 301.97M567.14 306.40L568.12 301.97" stroke="#3a3a3a" stroke-width="0.68" fill="none"/>
<path d="M555.93 303.25h2.92M555.52 305.13h2.92M559.19 303.25h2.92M558.77 305.13h2.92M562.44 303.25h2.92M562.03 305.13h2.92M565.69 303.25h2.92M565.28 305.13h2.92" stroke="#3a3a3a" stroke-width="0.52" fill="none"/>
<rect x="579.06" y="350.10" width="16.40" height="4.90" fill="#00bb00"/>
<line x1="587.26" y1="350.10" x2="587.26" y2="340.20" stroke="#6a6a6a" stroke-width="0.95"/>
<line x1="583.02" y1="340.20" x2="591.50" y2="340.20" stroke="#858585" stroke-width="1.1"/>
<line x1="587.26" y1="355.00" x2="587.26" y2="359.24" stroke="#151515" stroke-width="1.05"/>
<text transform="translate(589.71 365.56) rotate(-45)" text-anchor="end" font-size="7.36" font-weight="bold" fill="#111" stroke="#111" stroke-width="0.15">P3</text>
<path d="M580.74 306.40L581.72 301.97M582.10 306.40L583.07 301.97M584.00 306.40L584.97 301.97M585.35 306.40L586.33 301.97M587.25 306.40L588.22 301.97M588.61 306.40L589.58 301.97M590.50 306.40L591.48 301.97M591.86 306.40L592.84 301.97" stroke="#3a3a3a" stroke-width="0.68" fill="none"/>
<path d="M580.65 303.25h2.92M580.24 305.13h2.92M583.91 303.25h2.92M583.49 305.13h2.92M587.16 303.25h2.92M586.75 305.13h2.92M590.41 303.25h2.92M590.00 305.13h2.92" stroke="#3a3a3a" stroke-width="0.52" fill="none"/>
<path d="M373.00 257.50 V355.00 H604.50" fill="none" stroke="#151515" stroke-width="1.05"/>
<line x1="368.76" y1="355.00" x2="373.00" y2="355.00" stroke="#151515" stroke-width="1.05"/>
<text transform="translate(367.53 357.83) scale(1 1.08)" text-anchor="end" font-size="7.17" font-weight="bold" fill="#111" stroke="#111" stroke-width="0.22">0</text>
<line x1="368.76" y1="330.62" x2="373.00" y2="330.62" stroke="#151515" stroke-width="1.05"/>
<text transform="translate(367.53 333.45) scale(1 1.08)" text-anchor="end" font-size="7.17" font-weight="bold" fill="#111" stroke="#111" stroke-width="0.22">20</text>
<line x1="368.76" y1="306.25" x2="373.00" y2="306.25" stroke="#151515" stroke-width="1.05"/>
<text transform="translate(367.53 309.08) scale(1 1.08)" text-anchor="end" font-size="7.17" font-weight="bold" fill="#111" stroke="#111" stroke-width="0.22">40</text>
<line x1="368.76" y1="281.88" x2="373.00" y2="281.88" stroke="#151515" stroke-width="1.05"/>
<text transform="translate(367.53 284.70) scale(1 1.08)" text-anchor="end" font-size="7.17" font-weight="bold" fill="#111" stroke="#111" stroke-width="0.22">60</text>
<line x1="368.76" y1="257.50" x2="373.00" y2="257.50" stroke="#151515" stroke-width="1.05"/>
<text transform="translate(367.53 260.33) scale(1 1.08)" text-anchor="end" font-size="7.17" font-weight="bold" fill="#111" stroke="#111" stroke-width="0.22">80</text>
<text transform="translate(354.39 306.25) rotate(-90) scale(1.14 1)" text-anchor="middle" font-size="7.17" font-weight="bold" fill="#111" stroke="#111" stroke-width="0.22">positive cells [%]</text>
<text transform="translate(488.75 244.40) scale(1 1.04)" text-anchor="middle" font-size="9.24" font-weight="bold" fill="#111" stroke="#111" stroke-width="0.22">Tra-1-81</text>
<rect x="49.00" y="537.10" width="17.50" height="29.90" fill="#ff0000"/>
<line x1="57.75" y1="537.10" x2="57.75" y2="525.20" stroke="#6a6a6a" stroke-width="0.95"/>
<line x1="53.25" y1="525.20" x2="62.25" y2="525.20" stroke="#858585" stroke-width="1.1"/>
<line x1="57.75" y1="567.00" x2="57.75" y2="571.50" stroke="#151515" stroke-width="1.05"/>
<text transform="translate(60.35 578.20) rotate(-45)" text-anchor="end" font-size="7.80" font-weight="bold" fill="#111" stroke="#111" stroke-width="0.15">iPSCs</text>
<rect x="75.20" y="520.20" width="17.50" height="46.80" fill="#559bff"/>
<line x1="83.95" y1="520.20" x2="83.95" y2="511.40" stroke="#6a6a6a" stroke-width="0.95"/>
<line x1="79.45" y1="511.40" x2="88.45" y2="511.40" stroke="#858585" stroke-width="1.1"/>
<line x1="83.95" y1="567.00" x2="83.95" y2="571.50" stroke="#151515" stroke-width="1.05"/>
<text transform="translate(86.55 578.20) rotate(-45)" text-anchor="end" font-size="7.80" font-weight="bold" fill="#111" stroke="#111" stroke-width="0.15">P0</text>
<rect x="101.40" y="526.70" width="17.50" height="40.30" fill="#00bb00"/>
<line x1="110.15" y1="526.70" x2="110.15" y2="518.20" stroke="#6a6a6a" stroke-width="0.95"/>
<line x1="105.65" y1="518.20" x2="114.65" y2="518.20" stroke="#858585" stroke-width="1.1"/>
<line x1="110.15" y1="567.00" x2="110.15" y2="571.50" stroke="#151515" stroke-width="1.05"/>
<text transform="translate(112.75 578.20) rotate(-45)" text-anchor="end" font-size="7.80" font-weight="bold" fill="#111" stroke="#111" stroke-width="0.15">P0</text>
<rect x="127.60" y="514.20" width="17.50" height="52.80" fill="#559bff"/>
<line x1="136.35" y1="514.20" x2="136.35" y2="511.20" stroke="#6a6a6a" stroke-width="0.95"/>
<line x1="131.85" y1="511.20" x2="140.85" y2="511.20" stroke="#858585" stroke-width="1.1"/>
<line x1="136.35" y1="567.00" x2="136.35" y2="571.50" stroke="#151515" stroke-width="1.05"/>
<text transform="translate(138.95 578.20) rotate(-45)" text-anchor="end" font-size="7.80" font-weight="bold" fill="#111" stroke="#111" stroke-width="0.15">P1</text>
<path d="M132.89 497.15L133.92 492.45M134.33 497.15L135.36 492.45M136.34 497.15L137.37 492.45M137.78 497.15L138.81 492.45" stroke="#3a3a3a" stroke-width="0.72" fill="none"/>
<path d="M132.79 493.80h3.10M132.35 495.80h3.10M136.24 493.80h3.10M135.80 495.80h3.10" stroke="#3a3a3a" stroke-width="0.55" fill="none"/>
<rect x="153.80" y="511.00" width="17.50" height="56.00" fill="#00bb00"/>
<line x1="162.55" y1="511.00" x2="162.55" y2="508.30" stroke="#6a6a6a" stroke-width="0.95"/>
<line x1="158.05" y1="508.30" x2="167.05" y2="508.30" stroke="#858585" stroke-width="1.1"/>
<line x1="162.55" y1="567.00" x2="162.55" y2="571.50" stroke="#151515" stroke-width="1.05"/>
<text transform="translate(165.15 578.20) rotate(-45)" text-anchor="end" font-size="7.80" font-weight="bold" fill="#111" stroke="#111" stroke-width="0.15">P1</text>
<path d="M157.36 497.15L158.40 492.45M158.80 497.15L159.84 492.45M160.81 497.15L161.85 492.45M162.25 497.15L163.29 492.45M164.26 497.15L165.30 492.45M165.70 497.15L166.74 492.45" stroke="#3a3a3a" stroke-width="0.72" fill="none"/>
<path d="M157.27 493.80h3.10M156.83 495.80h3.10M160.72 493.80h3.10M160.28 495.80h3.10M164.17 493.80h3.10M163.73 495.80h3.10" stroke="#3a3a3a" stroke-width="0.55" fill="none"/>
<rect x="180.00" y="519.70" width="17.50" height="47.30" fill="#559bff"/>
<line x1="188.75" y1="519.70" x2="188.75" y2="501.00" stroke="#6a6a6a" stroke-width="0.95"/>
<line x1="184.25" y1="501.00" x2="193.25" y2="501.00" stroke="#858585" stroke-width="1.1"/>
<line x1="188.75" y1="567.00" x2="188.75" y2="571.50" stroke="#151515" stroke-width="1.05"/>
<text transform="translate(191.35 578.20) rotate(-45)" text-anchor="end" font-size="7.80" font-weight="bold" fill="#111" stroke="#111" stroke-width="0.15">P2</text>
<rect x="206.20" y="513.90" width="17.50" height="53.10" fill="#00bb00"/>
<line x1="214.95" y1="513.90" x2="214.95" y2="507.20" stroke="#6a6a6a" stroke-width="0.95"/>
<line x1="210.45" y1="507.20" x2="219.45" y2="507.20" stroke="#858585" stroke-width="1.1"/>
<line x1="214.95" y1="567.00" x2="214.95" y2="571.50" stroke="#151515" stroke-width="1.05"/>
<text transform="translate(217.55 578.20) rotate(-45)" text-anchor="end" font-size="7.80" font-weight="bold" fill="#111" stroke="#111" stroke-width="0.15">P2</text>
<path d="M211.49 497.15L212.52 492.45M212.93 497.15L213.96 492.45M214.94 497.15L215.97 492.45M216.38 497.15L217.41 492.45" stroke="#3a3a3a" stroke-width="0.72" fill="none"/>
<path d="M211.39 493.80h3.10M210.95 495.80h3.10M214.84 493.80h3.10M214.40 495.80h3.10" stroke="#3a3a3a" stroke-width="0.55" fill="none"/>
<rect x="232.40" y="515.90" width="17.50" height="51.10" fill="#559bff"/>
<line x1="241.15" y1="515.90" x2="241.15" y2="511.20" stroke="#6a6a6a" stroke-width="0.95"/>
<line x1="236.65" y1="511.20" x2="245.65" y2="511.20" stroke="#858585" stroke-width="1.1"/>
<line x1="241.15" y1="567.00" x2="241.15" y2="571.50" stroke="#151515" stroke-width="1.05"/>
<text transform="translate(243.75 578.20) rotate(-45)" text-anchor="end" font-size="7.80" font-weight="bold" fill="#111" stroke="#111" stroke-width="0.15">P3</text>
<path d="M239.41 497.15L240.45 492.45M240.85 497.15L241.89 492.45" stroke="#3a3a3a" stroke-width="0.72" fill="none"/>
<path d="M239.32 493.80h3.10M238.88 495.80h3.10" stroke="#3a3a3a" stroke-width="0.55" fill="none"/>
<rect x="258.60" y="520.00" width="17.50" height="47.00" fill="#00bb00"/>
<line x1="267.35" y1="520.00" x2="267.35" y2="500.40" stroke="#6a6a6a" stroke-width="0.95"/>
<line x1="262.85" y1="500.40" x2="271.85" y2="500.40" stroke="#858585" stroke-width="1.1"/>
<line x1="267.35" y1="567.00" x2="267.35" y2="571.50" stroke="#151515" stroke-width="1.05"/>
<text transform="translate(269.95 578.20) rotate(-45)" text-anchor="end" font-size="7.80" font-weight="bold" fill="#111" stroke="#111" stroke-width="0.15">P3</text>
<path d="M40.50 463.30 V567.00 H285.00" fill="none" stroke="#151515" stroke-width="1.05"/>
<line x1="36.00" y1="567.00" x2="40.50" y2="567.00" stroke="#151515" stroke-width="1.05"/>
<text transform="translate(34.70 570.00) scale(1 1.08)" text-anchor="end" font-size="7.60" font-weight="bold" fill="#111" stroke="#111" stroke-width="0.22">0</text>
<line x1="36.00" y1="532.43" x2="40.50" y2="532.43" stroke="#151515" stroke-width="1.05"/>
<text transform="translate(34.70 535.43) scale(1 1.08)" text-anchor="end" font-size="7.60" font-weight="bold" fill="#111" stroke="#111" stroke-width="0.22">50</text>
<line x1="36.00" y1="497.87" x2="40.50" y2="497.87" stroke="#151515" stroke-width="1.05"/>
<text transform="translate(34.70 500.87) scale(1 1.08)" text-anchor="end" font-size="7.60" font-weight="bold" fill="#111" stroke="#111" stroke-width="0.22">100</text>
<line x1="36.00" y1="463.30" x2="40.50" y2="463.30" stroke="#151515" stroke-width="1.05"/>
<text transform="translate(34.70 466.30) scale(1 1.08)" text-anchor="end" font-size="7.60" font-weight="bold" fill="#111" stroke="#111" stroke-width="0.22">150</text>
<text transform="translate(16.20 515.15) rotate(-90) scale(1.14 1)" text-anchor="middle" font-size="7.60" font-weight="bold" fill="#111" stroke="#111" stroke-width="0.22">positive cells [%]</text>
<text transform="translate(162.75 449.50) scale(1 1.04)" text-anchor="middle" font-size="9.80" font-weight="bold" fill="#111" stroke="#111" stroke-width="0.22">CD44</text>
<rect x="383.70" y="502.00" width="17.40" height="65.00" fill="#ff0000"/>
<line x1="392.40" y1="502.00" x2="392.40" y2="501.30" stroke="#6a6a6a" stroke-width="0.95"/>
<line x1="387.90" y1="501.30" x2="396.90" y2="501.30" stroke="#858585" stroke-width="1.1"/>
<line x1="392.40" y1="567.00" x2="392.40" y2="571.50" stroke="#151515" stroke-width="1.05"/>
<text transform="translate(395.00 578.20) rotate(-45)" text-anchor="end" font-size="7.80" font-weight="bold" fill="#111" stroke="#111" stroke-width="0.15">iPSCs</text>
<rect x="409.90" y="511.40" width="17.40" height="55.60" fill="#559bff"/>
<line x1="418.60" y1="511.40" x2="418.60" y2="507.30" stroke="#6a6a6a" stroke-width="0.95"/>
<line x1="414.10" y1="507.30" x2="423.10" y2="507.30" stroke="#858585" stroke-width="1.1"/>
<line x1="418.60" y1="567.00" x2="418.60" y2="571.50" stroke="#151515" stroke-width="1.05"/>
<text transform="translate(421.20 578.20) rotate(-45)" text-anchor="end" font-size="7.80" font-weight="bold" fill="#111" stroke="#111" stroke-width="0.15">P0</text>
<rect x="436.10" y="512.70" width="17.40" height="54.30" fill="#00bb00"/>
<line x1="444.80" y1="512.70" x2="444.80" y2="507.20" stroke="#6a6a6a" stroke-width="0.95"/>
<line x1="440.30" y1="507.20" x2="449.30" y2="507.20" stroke="#858585" stroke-width="1.1"/>
<line x1="444.80" y1="567.00" x2="444.80" y2="571.50" stroke="#151515" stroke-width="1.05"/>
<text transform="translate(447.40 578.20) rotate(-45)" text-anchor="end" font-size="7.80" font-weight="bold" fill="#111" stroke="#111" stroke-width="0.15">P0</text>
<rect x="462.30" y="512.10" width="17.40" height="54.90" fill="#559bff"/>
<line x1="471.00" y1="512.10" x2="471.00" y2="491.40" stroke="#6a6a6a" stroke-width="0.95"/>
<line x1="466.50" y1="491.40" x2="475.50" y2="491.40" stroke="#858585" stroke-width="1.1"/>
<line x1="471.00" y1="567.00" x2="471.00" y2="571.50" stroke="#151515" stroke-width="1.05"/>
<text transform="translate(473.60 578.20) rotate(-45)" text-anchor="end" font-size="7.80" font-weight="bold" fill="#111" stroke="#111" stroke-width="0.15">P1</text>
<rect x="488.50" y="511.00" width="17.40" height="56.00" fill="#00bb00"/>
<line x1="497.20" y1="511.00" x2="497.20" y2="502.20" stroke="#6a6a6a" stroke-width="0.95"/>
<line x1="492.70" y1="502.20" x2="501.70" y2="502.20" stroke="#858585" stroke-width="1.1"/>
<line x1="497.20" y1="567.00" x2="497.20" y2="571.50" stroke="#151515" stroke-width="1.05"/>
<text transform="translate(499.80 578.20) rotate(-45)" text-anchor="end" font-size="7.80" font-weight="bold" fill="#111" stroke="#111" stroke-width="0.15">P1</text>
<rect x="514.70" y="504.50" width="17.40" height="62.50" fill="#559bff"/>
<line x1="523.40" y1="504.50" x2="523.40" y2="501.30" stroke="#6a6a6a" stroke-width="0.95"/>
<line x1="518.90" y1="501.30" x2="527.90" y2="501.30" stroke="#858585" stroke-width="1.1"/>
<line x1="523.40" y1="567.00" x2="523.40" y2="571.50" stroke="#151515" stroke-width="1.05"/>
<text transform="translate(526.00 578.20) rotate(-45)" text-anchor="end" font-size="7.80" font-weight="bold" fill="#111" stroke="#111" stroke-width="0.15">P2</text>
<rect x="540.90" y="505.10" width="17.40" height="61.90" fill="#00bb00"/>
<line x1="549.60" y1="505.10" x2="549.60" y2="502.20" stroke="#6a6a6a" stroke-width="0.95"/>
<line x1="545.10" y1="502.20" x2="554.10" y2="502.20" stroke="#858585" stroke-width="1.1"/>
<line x1="549.60" y1="567.00" x2="549.60" y2="571.50" stroke="#151515" stroke-width="1.05"/>
<text transform="translate(552.20 578.20) rotate(-45)" text-anchor="end" font-size="7.80" font-weight="bold" fill="#111" stroke="#111" stroke-width="0.15">P2</text>
<rect x="567.10" y="506.60" width="17.40" height="60.40" fill="#559bff"/>
<line x1="575.80" y1="506.60" x2="575.80" y2="501.30" stroke="#6a6a6a" stroke-width="0.95"/>
<line x1="571.30" y1="501.30" x2="580.30" y2="501.30" stroke="#858585" stroke-width="1.1"/>
<line x1="575.80" y1="567.00" x2="575.80" y2="571.50" stroke="#151515" stroke-width="1.05"/>
<text transform="translate(578.40 578.20) rotate(-45)" text-anchor="end" font-size="7.80" font-weight="bold" fill="#111" stroke="#111" stroke-width="0.15">P3</text>
<rect x="593.30" y="505.40" width="17.40" height="61.60" fill="#00bb00"/>
<line x1="602.00" y1="505.40" x2="602.00" y2="501.00" stroke="#6a6a6a" stroke-width="0.95"/>
<line x1="597.50" y1="501.00" x2="606.50" y2="501.00" stroke="#858585" stroke-width="1.1"/>
<line x1="602.00" y1="567.00" x2="602.00" y2="571.50" stroke="#151515" stroke-width="1.05"/>
<text transform="translate(604.60 578.20) rotate(-45)" text-anchor="end" font-size="7.80" font-weight="bold" fill="#111" stroke="#111" stroke-width="0.15">P3</text>
<path d="M374.90 463.30 V567.00 H619.50" fill="none" stroke="#151515" stroke-width="1.05"/>
<line x1="370.40" y1="567.00" x2="374.90" y2="567.00" stroke="#151515" stroke-width="1.05"/>
<text transform="translate(369.10 570.00) scale(1 1.08)" text-anchor="end" font-size="7.60" font-weight="bold" fill="#111" stroke="#111" stroke-width="0.22">0</text>
<line x1="370.40" y1="532.43" x2="374.90" y2="532.43" stroke="#151515" stroke-width="1.05"/>
<text transform="translate(369.10 535.43) scale(1 1.08)" text-anchor="end" font-size="7.60" font-weight="bold" fill="#111" stroke="#111" stroke-width="0.22">50</text>
<line x1="370.40" y1="497.87" x2="374.90" y2="497.87" stroke="#151515" stroke-width="1.05"/>
<text transform="translate(369.10 500.87) scale(1 1.08)" text-anchor="end" font-size="7.60" font-weight="bold" fill="#111" stroke="#111" stroke-width="0.22">100</text>
<line x1="370.40" y1="463.30" x2="374.90" y2="463.30" stroke="#151515" stroke-width="1.05"/>
<text transform="translate(369.10 466.30) scale(1 1.08)" text-anchor="end" font-size="7.60" font-weight="bold" fill="#111" stroke="#111" stroke-width="0.22">150</text>
<text transform="translate(351.20 515.15) rotate(-90) scale(1.14 1)" text-anchor="middle" font-size="7.60" font-weight="bold" fill="#111" stroke="#111" stroke-width="0.22">positive cells [%]</text>
<text transform="translate(497.20 449.40) scale(1 1.04)" text-anchor="middle" font-size="9.80" font-weight="bold" fill="#111" stroke="#111" stroke-width="0.22">CD90</text>
<rect x="49.20" y="784.60" width="17.30" height="1.40" fill="#ff0000"/>
<line x1="57.85" y1="784.60" x2="57.85" y2="782.00" stroke="#6a6a6a" stroke-width="0.95"/>
<line x1="53.35" y1="782.00" x2="62.35" y2="782.00" stroke="#858585" stroke-width="1.1"/>
<line x1="57.85" y1="786.00" x2="57.85" y2="790.50" stroke="#151515" stroke-width="1.05"/>
<text transform="translate(60.45 797.20) rotate(-45)" text-anchor="end" font-size="7.80" font-weight="bold" fill="#111" stroke="#111" stroke-width="0.15">iPSCs</text>
<rect x="75.40" y="746.80" width="17.30" height="39.20" fill="#559bff"/>
<line x1="84.05" y1="746.80" x2="84.05" y2="734.30" stroke="#6a6a6a" stroke-width="0.95"/>
<line x1="79.55" y1="734.30" x2="88.55" y2="734.30" stroke="#858585" stroke-width="1.1"/>
<line x1="84.05" y1="786.00" x2="84.05" y2="790.50" stroke="#151515" stroke-width="1.05"/>
<text transform="translate(86.65 797.20) rotate(-45)" text-anchor="end" font-size="7.80" font-weight="bold" fill="#111" stroke="#111" stroke-width="0.15">P0</text>
<path d="M77.14 713.55L78.17 708.85M78.58 713.55L79.61 708.85M80.59 713.55L81.62 708.85M82.03 713.55L83.06 708.85M84.04 713.55L85.07 708.85M85.48 713.55L86.51 708.85M87.49 713.55L88.52 708.85M88.93 713.55L89.96 708.85" stroke="#3a3a3a" stroke-width="0.72" fill="none"/>
<path d="M77.05 710.20h3.10M76.61 712.20h3.10M80.50 710.20h3.10M80.06 712.20h3.10M83.95 710.20h3.10M83.51 712.20h3.10M87.40 710.20h3.10M86.96 712.20h3.10" stroke="#3a3a3a" stroke-width="0.55" fill="none"/>
<rect x="101.60" y="751.10" width="17.30" height="34.90" fill="#00bb00"/>
<line x1="110.25" y1="751.10" x2="110.25" y2="741.50" stroke="#6a6a6a" stroke-width="0.95"/>
<line x1="105.75" y1="741.50" x2="114.75" y2="741.50" stroke="#858585" stroke-width="1.1"/>
<line x1="110.25" y1="786.00" x2="110.25" y2="790.50" stroke="#151515" stroke-width="1.05"/>
<text transform="translate(112.85 797.20) rotate(-45)" text-anchor="end" font-size="7.80" font-weight="bold" fill="#111" stroke="#111" stroke-width="0.15">P0</text>
<path d="M103.34 713.55L104.37 708.85M104.78 713.55L105.81 708.85M106.79 713.55L107.82 708.85M108.23 713.55L109.26 708.85M110.24 713.55L111.27 708.85M111.68 713.55L112.71 708.85M113.69 713.55L114.72 708.85M115.13 713.55L116.16 708.85" stroke="#3a3a3a" stroke-width="0.72" fill="none"/>
<path d="M103.25 710.20h3.10M102.81 712.20h3.10M106.70 710.20h3.10M106.26 712.20h3.10M110.15 710.20h3.10M109.71 712.20h3.10M113.60 710.20h3.10M113.16 712.20h3.10" stroke="#3a3a3a" stroke-width="0.55" fill="none"/>
<rect x="127.80" y="737.10" width="17.30" height="48.90" fill="#559bff"/>
<line x1="136.45" y1="737.10" x2="136.45" y2="718.40" stroke="#6a6a6a" stroke-width="0.95"/>
<line x1="131.95" y1="718.40" x2="140.95" y2="718.40" stroke="#858585" stroke-width="1.1"/>
<line x1="136.45" y1="786.00" x2="136.45" y2="790.50" stroke="#151515" stroke-width="1.05"/>
<text transform="translate(139.05 797.20) rotate(-45)" text-anchor="end" font-size="7.80" font-weight="bold" fill="#111" stroke="#111" stroke-width="0.15">P1</text>
<path d="M129.54 713.55L130.57 708.85M130.98 713.55L132.01 708.85M132.99 713.55L134.02 708.85M134.43 713.55L135.46 708.85M136.44 713.55L137.47 708.85M137.88 713.55L138.91 708.85M139.89 713.55L140.92 708.85M141.33 713.55L142.36 708.85" stroke="#3a3a3a" stroke-width="0.72" fill="none"/>
<path d="M129.44 710.20h3.10M129.00 712.20h3.10M132.89 710.20h3.10M132.45 712.20h3.10M136.34 710.20h3.10M135.90 712.20h3.10M139.79 710.20h3.10M139.35 712.20h3.10" stroke="#3a3a3a" stroke-width="0.55" fill="none"/>
<rect x="154.00" y="730.70" width="17.30" height="55.30" fill="#00bb00"/>
<line x1="162.65" y1="730.70" x2="162.65" y2="725.40" stroke="#6a6a6a" stroke-width="0.95"/>
<line x1="158.15" y1="725.40" x2="167.15" y2="725.40" stroke="#858585" stroke-width="1.1"/>
<line x1="162.65" y1="786.00" x2="162.65" y2="790.50" stroke="#151515" stroke-width="1.05"/>
<text transform="translate(165.25 797.20) rotate(-45)" text-anchor="end" font-size="7.80" font-weight="bold" fill="#111" stroke="#111" stroke-width="0.15">P1</text>
<path d="M155.74 713.55L156.77 708.85M157.18 713.55L158.21 708.85M159.19 713.55L160.22 708.85M160.63 713.55L161.66 708.85M162.64 713.55L163.67 708.85M164.08 713.55L165.11 708.85M166.09 713.55L167.12 708.85M167.53 713.55L168.56 708.85" stroke="#3a3a3a" stroke-width="0.72" fill="none"/>
<path d="M155.64 710.20h3.10M155.20 712.20h3.10M159.09 710.20h3.10M158.65 712.20h3.10M162.54 710.20h3.10M162.10 712.20h3.10M165.99 710.20h3.10M165.55 712.20h3.10" stroke="#3a3a3a" stroke-width="0.55" fill="none"/>
<rect x="180.20" y="732.70" width="17.30" height="53.30" fill="#559bff"/>
<line x1="188.85" y1="732.70" x2="188.85" y2="723.40" stroke="#6a6a6a" stroke-width="0.95"/>
<line x1="184.35" y1="723.40" x2="193.35" y2="723.40" stroke="#858585" stroke-width="1.1"/>
<line x1="188.85" y1="786.00" x2="188.85" y2="790.50" stroke="#151515" stroke-width="1.05"/>
<text transform="translate(191.45 797.20) rotate(-45)" text-anchor="end" font-size="7.80" font-weight="bold" fill="#111" stroke="#111" stroke-width="0.15">P2</text>
<path d="M181.94 713.55L182.97 708.85M183.38 713.55L184.41 708.85M185.39 713.55L186.42 708.85M186.83 713.55L187.86 708.85M188.84 713.55L189.87 708.85M190.28 713.55L191.31 708.85M192.29 713.55L193.32 708.85M193.73 713.55L194.76 708.85" stroke="#3a3a3a" stroke-width="0.72" fill="none"/>
<path d="M181.84 710.20h3.10M181.40 712.20h3.10M185.29 710.20h3.10M184.85 712.20h3.10M188.74 710.20h3.10M188.30 712.20h3.10M192.19 710.20h3.10M191.75 712.20h3.10" stroke="#3a3a3a" stroke-width="0.55" fill="none"/>
<rect x="206.40" y="731.00" width="17.30" height="55.00" fill="#00bb00"/>
<line x1="215.05" y1="731.00" x2="215.05" y2="723.60" stroke="#6a6a6a" stroke-width="0.95"/>
<line x1="210.55" y1="723.60" x2="219.55" y2="723.60" stroke="#858585" stroke-width="1.1"/>
<line x1="215.05" y1="786.00" x2="215.05" y2="790.50" stroke="#151515" stroke-width="1.05"/>
<text transform="translate(217.65 797.20) rotate(-45)" text-anchor="end" font-size="7.80" font-weight="bold" fill="#111" stroke="#111" stroke-width="0.15">P2</text>
<path d="M208.14 713.55L209.17 708.85M209.58 713.55L210.61 708.85M211.59 713.55L212.62 708.85M213.03 713.55L214.06 708.85M215.04 713.55L216.07 708.85M216.48 713.55L217.51 708.85M218.49 713.55L219.52 708.85M219.93 713.55L220.96 708.85" stroke="#3a3a3a" stroke-width="0.72" fill="none"/>
<path d="M208.04 710.20h3.10M207.60 712.20h3.10M211.49 710.20h3.10M211.05 712.20h3.10M214.94 710.20h3.10M214.50 712.20h3.10M218.39 710.20h3.10M217.95 712.20h3.10" stroke="#3a3a3a" stroke-width="0.55" fill="none"/>
<rect x="232.60" y="737.10" width="17.30" height="48.90" fill="#559bff"/>
<line x1="241.25" y1="737.10" x2="241.25" y2="728.60" stroke="#6a6a6a" stroke-width="0.95"/>
<line x1="236.75" y1="728.60" x2="245.75" y2="728.60" stroke="#858585" stroke-width="1.1"/>
<line x1="241.25" y1="786.00" x2="241.25" y2="790.50" stroke="#151515" stroke-width="1.05"/>
<text transform="translate(243.85 797.20) rotate(-45)" text-anchor="end" font-size="7.80" font-weight="bold" fill="#111" stroke="#111" stroke-width="0.15">P3</text>
<path d="M234.34 713.55L235.37 708.85M235.78 713.55L236.81 708.85M237.79 713.55L238.82 708.85M239.23 713.55L240.26 708.85M241.24 713.55L242.27 708.85M242.68 713.55L243.71 708.85M244.69 713.55L245.72 708.85M246.13 713.55L247.16 708.85" stroke="#3a3a3a" stroke-width="0.72" fill="none"/>
<path d="M234.25 710.20h3.10M233.81 712.20h3.10M237.69 710.20h3.10M237.25 712.20h3.10M241.15 710.20h3.10M240.71 712.20h3.10M244.59 710.20h3.10M244.16 712.20h3.10" stroke="#3a3a3a" stroke-width="0.55" fill="none"/>
<rect x="258.80" y="731.80" width="17.30" height="54.20" fill="#00bb00"/>
<line x1="267.45" y1="731.80" x2="267.45" y2="726.30" stroke="#6a6a6a" stroke-width="0.95"/>
<line x1="262.95" y1="726.30" x2="271.95" y2="726.30" stroke="#858585" stroke-width="1.1"/>
<line x1="267.45" y1="786.00" x2="267.45" y2="790.50" stroke="#151515" stroke-width="1.05"/>
<text transform="translate(270.05 797.20) rotate(-45)" text-anchor="end" font-size="7.80" font-weight="bold" fill="#111" stroke="#111" stroke-width="0.15">P3</text>
<path d="M260.54 713.55L261.57 708.85M261.98 713.55L263.01 708.85M263.99 713.55L265.02 708.85M265.43 713.55L266.46 708.85M267.44 713.55L268.47 708.85M268.88 713.55L269.91 708.85M270.89 713.55L271.92 708.85M272.33 713.55L273.36 708.85" stroke="#3a3a3a" stroke-width="0.72" fill="none"/>
<path d="M260.44 710.20h3.10M260.00 712.20h3.10M263.89 710.20h3.10M263.45 712.20h3.10M267.34 710.20h3.10M266.90 712.20h3.10M270.80 710.20h3.10M270.35 712.20h3.10" stroke="#3a3a3a" stroke-width="0.55" fill="none"/>
<path d="M40.50 682.70 V786.00 H285.00" fill="none" stroke="#151515" stroke-width="1.05"/>
<line x1="36.00" y1="786.00" x2="40.50" y2="786.00" stroke="#151515" stroke-width="1.05"/>
<text transform="translate(34.70 789.00) scale(1 1.08)" text-anchor="end" font-size="7.60" font-weight="bold" fill="#111" stroke="#111" stroke-width="0.22">0</text>
<line x1="36.00" y1="751.57" x2="40.50" y2="751.57" stroke="#151515" stroke-width="1.05"/>
<text transform="translate(34.70 754.57) scale(1 1.08)" text-anchor="end" font-size="7.60" font-weight="bold" fill="#111" stroke="#111" stroke-width="0.22">50</text>
<line x1="36.00" y1="717.13" x2="40.50" y2="717.13" stroke="#151515" stroke-width="1.05"/>
<text transform="translate(34.70 720.13) scale(1 1.08)" text-anchor="end" font-size="7.60" font-weight="bold" fill="#111" stroke="#111" stroke-width="0.22">100</text>
<line x1="36.00" y1="682.70" x2="40.50" y2="682.70" stroke="#151515" stroke-width="1.05"/>
<text transform="translate(34.70 685.70) scale(1 1.08)" text-anchor="end" font-size="7.60" font-weight="bold" fill="#111" stroke="#111" stroke-width="0.22">150</text>
<text transform="translate(16.50 734.35) rotate(-90) scale(1.14 1)" text-anchor="middle" font-size="7.60" font-weight="bold" fill="#111" stroke="#111" stroke-width="0.22">positive cells [%]</text>
<text transform="translate(162.75 646.90) scale(1 1.04)" text-anchor="middle" font-size="9.80" font-weight="bold" fill="#111" stroke="#111" stroke-width="0.22">CD73</text>
<path d="M110.25 702.15 V695.95 H162.65 V702.15" fill="none" stroke="#8c8c8c" stroke-width="1.15"/>
<polygon points="134.25,687.37 134.84,688.51 136.29,688.64 135.20,689.46 135.51,690.68 134.25,690.05 132.99,690.68 133.30,689.46 132.21,688.64 133.66,688.51" fill="#111"/>
<polygon points="138.65,687.37 139.24,688.51 140.69,688.64 139.60,689.46 139.91,690.68 138.65,690.05 137.39,690.68 137.70,689.46 136.61,688.64 138.06,688.51" fill="#111"/>
<path d="M110.25 687.25 V681.05 H215.05 V687.25" fill="none" stroke="#8c8c8c" stroke-width="1.15"/>
<polygon points="160.45,672.47 161.04,673.61 162.49,673.74 161.40,674.56 161.71,675.78 160.45,675.15 159.19,675.78 159.50,674.56 158.41,673.74 159.86,673.61" fill="#111"/>
<polygon points="164.85,672.47 165.44,673.61 166.89,673.74 165.80,674.56 166.11,675.78 164.85,675.15 163.59,675.78 163.90,674.56 162.81,673.74 164.26,673.61" fill="#111"/>
<path d="M110.25 673.25 V667.05 H267.45 V673.25" fill="none" stroke="#8c8c8c" stroke-width="1.15"/>
<polygon points="186.65,658.47 187.24,659.61 188.69,659.74 187.60,660.56 187.91,661.78 186.65,661.15 185.39,661.78 185.70,660.56 184.61,659.74 186.06,659.61" fill="#111"/>
<polygon points="191.05,658.47 191.64,659.61 193.09,659.74 192.00,660.56 192.31,661.78 191.05,661.15 189.79,661.78 190.10,660.56 189.01,659.74 190.46,659.61" fill="#111"/>
<rect x="381.00" y="774.40" width="16.40" height="2.90" fill="#ff0000"/>
<line x1="389.20" y1="774.40" x2="389.20" y2="769.00" stroke="#6a6a6a" stroke-width="0.95"/>
<line x1="384.96" y1="769.00" x2="393.44" y2="769.00" stroke="#858585" stroke-width="1.1"/>
<line x1="389.20" y1="777.30" x2="389.20" y2="781.54" stroke="#151515" stroke-width="1.05"/>
<text transform="translate(391.65 787.86) rotate(-45)" text-anchor="end" font-size="7.36" font-weight="bold" fill="#111" stroke="#111" stroke-width="0.15">iPSCs</text>
<rect x="405.85" y="741.20" width="16.40" height="36.10" fill="#559bff"/>
<line x1="414.05" y1="741.20" x2="414.05" y2="720.40" stroke="#6a6a6a" stroke-width="0.95"/>
<line x1="409.81" y1="720.40" x2="418.29" y2="720.40" stroke="#858585" stroke-width="1.1"/>
<line x1="414.05" y1="777.30" x2="414.05" y2="781.54" stroke="#151515" stroke-width="1.05"/>
<text transform="translate(416.50 787.86) rotate(-45)" text-anchor="end" font-size="7.36" font-weight="bold" fill="#111" stroke="#111" stroke-width="0.15">P0</text>
<path d="M412.41 688.70L413.39 684.27M413.77 688.70L414.74 684.27" stroke="#3a3a3a" stroke-width="0.68" fill="none"/>
<path d="M412.32 685.55h2.92M411.91 687.43h2.92" stroke="#3a3a3a" stroke-width="0.52" fill="none"/>
<rect x="430.70" y="749.70" width="16.40" height="27.60" fill="#00bb00"/>
<line x1="438.90" y1="749.70" x2="438.90" y2="733.10" stroke="#6a6a6a" stroke-width="0.95"/>
<line x1="434.66" y1="733.10" x2="443.14" y2="733.10" stroke="#858585" stroke-width="1.1"/>
<line x1="438.90" y1="777.30" x2="438.90" y2="781.54" stroke="#151515" stroke-width="1.05"/>
<text transform="translate(441.35 787.86) rotate(-45)" text-anchor="end" font-size="7.36" font-weight="bold" fill="#111" stroke="#111" stroke-width="0.15">P0</text>
<rect x="455.55" y="732.50" width="16.40" height="44.80" fill="#559bff"/>
<line x1="463.75" y1="732.50" x2="463.75" y2="711.80" stroke="#6a6a6a" stroke-width="0.95"/>
<line x1="459.51" y1="711.80" x2="467.99" y2="711.80" stroke="#858585" stroke-width="1.1"/>
<line x1="463.75" y1="777.30" x2="463.75" y2="781.54" stroke="#151515" stroke-width="1.05"/>
<text transform="translate(466.20 787.86) rotate(-45)" text-anchor="end" font-size="7.36" font-weight="bold" fill="#111" stroke="#111" stroke-width="0.15">P1</text>
<path d="M458.86 688.70L459.83 684.27M460.22 688.70L461.19 684.27M462.11 688.70L463.09 684.27M463.47 688.70L464.44 684.27M465.37 688.70L466.34 684.27M466.72 688.70L467.70 684.27" stroke="#3a3a3a" stroke-width="0.68" fill="none"/>
<path d="M458.77 685.55h2.92M458.36 687.43h2.92M462.02 685.55h2.92M461.61 687.43h2.92M465.28 685.55h2.92M464.86 687.43h2.92" stroke="#3a3a3a" stroke-width="0.52" fill="none"/>
<rect x="480.40" y="713.80" width="16.40" height="63.50" fill="#00bb00"/>
<line x1="488.60" y1="713.80" x2="488.60" y2="703.30" stroke="#6a6a6a" stroke-width="0.95"/>
<line x1="484.36" y1="703.30" x2="492.84" y2="703.30" stroke="#858585" stroke-width="1.1"/>
<line x1="488.60" y1="777.30" x2="488.60" y2="781.54" stroke="#151515" stroke-width="1.05"/>
<text transform="translate(491.05 787.86) rotate(-45)" text-anchor="end" font-size="7.36" font-weight="bold" fill="#111" stroke="#111" stroke-width="0.15">P1</text>
<path d="M482.08 688.70L483.06 684.27M483.44 688.70L484.41 684.27M485.34 688.70L486.31 684.27M486.69 688.70L487.67 684.27M488.59 688.70L489.56 684.27M489.95 688.70L490.92 684.27M491.84 688.70L492.82 684.27M493.20 688.70L494.18 684.27" stroke="#3a3a3a" stroke-width="0.68" fill="none"/>
<path d="M481.99 685.55h2.92M481.58 687.43h2.92M485.25 685.55h2.92M484.83 687.43h2.92M488.50 685.55h2.92M488.09 687.43h2.92M491.75 685.55h2.92M491.34 687.43h2.92" stroke="#3a3a3a" stroke-width="0.52" fill="none"/>
<rect x="505.25" y="726.90" width="16.40" height="50.40" fill="#559bff"/>
<line x1="513.45" y1="726.90" x2="513.45" y2="706.20" stroke="#6a6a6a" stroke-width="0.95"/>
<line x1="509.21" y1="706.20" x2="517.69" y2="706.20" stroke="#858585" stroke-width="1.1"/>
<line x1="513.45" y1="777.30" x2="513.45" y2="781.54" stroke="#151515" stroke-width="1.05"/>
<text transform="translate(515.90 787.86) rotate(-45)" text-anchor="end" font-size="7.36" font-weight="bold" fill="#111" stroke="#111" stroke-width="0.15">P2</text>
<path d="M508.56 688.70L509.53 684.27M509.92 688.70L510.89 684.27M511.81 688.70L512.79 684.27M513.17 688.70L514.14 684.27M515.07 688.70L516.04 684.27M516.42 688.70L517.40 684.27" stroke="#3a3a3a" stroke-width="0.68" fill="none"/>
<path d="M508.47 685.55h2.92M508.06 687.43h2.92M511.72 685.55h2.92M511.31 687.43h2.92M514.98 685.55h2.92M514.56 687.43h2.92" stroke="#3a3a3a" stroke-width="0.52" fill="none"/>
<rect x="530.10" y="714.10" width="16.40" height="63.20" fill="#00bb00"/>
<line x1="538.30" y1="714.10" x2="538.30" y2="697.20" stroke="#6a6a6a" stroke-width="0.95"/>
<line x1="534.06" y1="697.20" x2="542.54" y2="697.20" stroke="#858585" stroke-width="1.1"/>
<line x1="538.30" y1="777.30" x2="538.30" y2="781.54" stroke="#151515" stroke-width="1.05"/>
<text transform="translate(540.75 787.86) rotate(-45)" text-anchor="end" font-size="7.36" font-weight="bold" fill="#111" stroke="#111" stroke-width="0.15">P2</text>
<path d="M531.78 688.70L532.76 684.27M533.14 688.70L534.11 684.27M535.04 688.70L536.01 684.27M536.39 688.70L537.37 684.27M538.29 688.70L539.26 684.27M539.65 688.70L540.62 684.27M541.54 688.70L542.52 684.27M542.90 688.70L543.88 684.27" stroke="#3a3a3a" stroke-width="0.68" fill="none"/>
<path d="M531.69 685.55h2.92M531.28 687.43h2.92M534.95 685.55h2.92M534.53 687.43h2.92M538.20 685.55h2.92M537.79 687.43h2.92M541.45 685.55h2.92M541.04 687.43h2.92" stroke="#3a3a3a" stroke-width="0.52" fill="none"/>
<rect x="554.95" y="719.90" width="16.40" height="57.40" fill="#559bff"/>
<line x1="563.15" y1="719.90" x2="563.15" y2="695.40" stroke="#6a6a6a" stroke-width="0.95"/>
<line x1="558.91" y1="695.40" x2="567.39" y2="695.40" stroke="#858585" stroke-width="1.1"/>
<line x1="563.15" y1="777.30" x2="563.15" y2="781.54" stroke="#151515" stroke-width="1.05"/>
<text transform="translate(565.60 787.86) rotate(-45)" text-anchor="end" font-size="7.36" font-weight="bold" fill="#111" stroke="#111" stroke-width="0.15">P3</text>
<path d="M556.63 688.70L557.61 684.27M557.99 688.70L558.96 684.27M559.89 688.70L560.86 684.27M561.24 688.70L562.22 684.27M563.14 688.70L564.11 684.27M564.50 688.70L565.47 684.27M566.39 688.70L567.37 684.27M567.75 688.70L568.73 684.27" stroke="#3a3a3a" stroke-width="0.68" fill="none"/>
<path d="M556.54 685.55h2.92M556.13 687.43h2.92M559.80 685.55h2.92M559.38 687.43h2.92M563.05 685.55h2.92M562.64 687.43h2.92M566.30 685.55h2.92M565.89 687.43h2.92" stroke="#3a3a3a" stroke-width="0.52" fill="none"/>
<rect x="579.80" y="709.10" width="16.40" height="68.20" fill="#00bb00"/>
<line x1="588.00" y1="709.10" x2="588.00" y2="691.60" stroke="#6a6a6a" stroke-width="0.95"/>
<line x1="583.76" y1="691.60" x2="592.24" y2="691.60" stroke="#858585" stroke-width="1.1"/>
<line x1="588.00" y1="777.30" x2="588.00" y2="781.54" stroke="#151515" stroke-width="1.05"/>
<text transform="translate(590.45 787.86) rotate(-45)" text-anchor="end" font-size="7.36" font-weight="bold" fill="#111" stroke="#111" stroke-width="0.15">P3</text>
<path d="M581.48 688.70L582.46 684.27M582.84 688.70L583.81 684.27M584.74 688.70L585.71 684.27M586.09 688.70L587.07 684.27M587.99 688.70L588.96 684.27M589.35 688.70L590.32 684.27M591.24 688.70L592.22 684.27M592.60 688.70L593.58 684.27" stroke="#3a3a3a" stroke-width="0.68" fill="none"/>
<path d="M581.39 685.55h2.92M580.98 687.43h2.92M584.65 685.55h2.92M584.23 687.43h2.92M587.90 685.55h2.92M587.49 687.43h2.92M591.15 685.55h2.92M590.74 687.43h2.92" stroke="#3a3a3a" stroke-width="0.52" fill="none"/>
<path d="M372.60 679.10 V777.30 H604.80" fill="none" stroke="#151515" stroke-width="1.05"/>
<line x1="368.36" y1="777.30" x2="372.60" y2="777.30" stroke="#151515" stroke-width="1.05"/>
<text transform="translate(367.13 780.13) scale(1 1.08)" text-anchor="end" font-size="7.17" font-weight="bold" fill="#111" stroke="#111" stroke-width="0.22">0</text>
<line x1="368.36" y1="757.66" x2="372.60" y2="757.66" stroke="#151515" stroke-width="1.05"/>
<text transform="translate(367.13 760.49) scale(1 1.08)" text-anchor="end" font-size="7.17" font-weight="bold" fill="#111" stroke="#111" stroke-width="0.22">20</text>
<line x1="368.36" y1="738.02" x2="372.60" y2="738.02" stroke="#151515" stroke-width="1.05"/>
<text transform="translate(367.13 740.85) scale(1 1.08)" text-anchor="end" font-size="7.17" font-weight="bold" fill="#111" stroke="#111" stroke-width="0.22">40</text>
<line x1="368.36" y1="718.38" x2="372.60" y2="718.38" stroke="#151515" stroke-width="1.05"/>
<text transform="translate(367.13 721.21) scale(1 1.08)" text-anchor="end" font-size="7.17" font-weight="bold" fill="#111" stroke="#111" stroke-width="0.22">60</text>
<line x1="368.36" y1="698.74" x2="372.60" y2="698.74" stroke="#151515" stroke-width="1.05"/>
<text transform="translate(367.13 701.57) scale(1 1.08)" text-anchor="end" font-size="7.17" font-weight="bold" fill="#111" stroke="#111" stroke-width="0.22">80</text>
<line x1="368.36" y1="679.10" x2="372.60" y2="679.10" stroke="#151515" stroke-width="1.05"/>
<text transform="translate(367.13 681.93) scale(1 1.08)" text-anchor="end" font-size="7.17" font-weight="bold" fill="#111" stroke="#111" stroke-width="0.22">100</text>
<text transform="translate(350.49 728.20) rotate(-90) scale(1.14 1)" text-anchor="middle" font-size="7.17" font-weight="bold" fill="#111" stroke="#111" stroke-width="0.22">positive cells [%]</text>
<text transform="translate(488.70 626.80) scale(1 1.04)" text-anchor="middle" font-size="9.24" font-weight="bold" fill="#111" stroke="#111" stroke-width="0.22">CD105</text>
<path d="M438.90 681.00 V675.15 H488.60 V681.00" fill="none" stroke="#8c8c8c" stroke-width="1.15"/>
<polygon points="461.68,667.05 462.23,668.12 463.60,668.24 462.57,669.02 462.87,670.16 461.68,669.57 460.48,670.16 460.78,669.02 459.75,668.24 461.12,668.12" fill="#111"/>
<polygon points="465.82,667.05 466.38,668.12 467.75,668.24 466.72,669.02 467.02,670.16 465.82,669.57 464.63,670.16 464.93,669.02 463.90,668.24 465.27,668.12" fill="#111"/>
<path d="M438.90 666.60 V660.75 H538.30 V666.60" fill="none" stroke="#8c8c8c" stroke-width="1.15"/>
<polygon points="486.53,652.65 487.08,653.72 488.45,653.84 487.42,654.62 487.72,655.76 486.53,655.17 485.33,655.76 485.63,654.62 484.60,653.84 485.97,653.72" fill="#111"/>
<polygon points="490.67,652.65 491.23,653.72 492.60,653.84 491.57,654.62 491.87,655.76 490.67,655.17 489.48,655.76 489.78,654.62 488.75,653.84 490.12,653.72" fill="#111"/>
<path d="M438.90 651.50 V645.65 H588.00 V651.50" fill="none" stroke="#8c8c8c" stroke-width="1.15"/>
<polygon points="509.30,637.55 509.86,638.62 511.23,638.74 510.20,639.52 510.49,640.66 509.30,640.07 508.11,640.66 508.40,639.52 507.37,638.74 508.75,638.62" fill="#111"/>
<polygon points="513.45,637.55 514.00,638.62 515.38,638.74 514.35,639.52 514.64,640.66 513.45,640.07 512.26,640.66 512.55,639.52 511.52,638.74 512.90,638.62" fill="#111"/>
<polygon points="517.60,637.55 518.15,638.62 519.53,638.74 518.50,639.52 518.79,640.66 517.60,640.07 516.41,640.66 516.70,639.52 515.67,638.74 517.04,638.62" fill="#111"/>
<rect x="625.80" y="260.90" width="11.2" height="5.7" fill="#ff0000"/>
<text transform="translate(642.80 266.60) scale(1 1.07)" font-size="8.0" fill="#222" stroke="#222" stroke-width="0.12">iPSCs</text>
<rect x="625.80" y="274.10" width="11.2" height="5.7" fill="#559bff"/>
<text transform="translate(642.80 279.80) scale(1 1.07)" font-size="8.0" fill="#222" stroke="#222" stroke-width="0.12">iMSCs -SB</text>
<rect x="625.80" y="287.30" width="11.2" height="5.7" fill="#00bb00"/>
<text transform="translate(642.80 293.00) scale(1 1.07)" font-size="8.0" fill="#222" stroke="#222" stroke-width="0.12">iMSCs +SB</text>
<rect x="627.00" y="683.00" width="10.2" height="5.7" fill="#ff0000"/>
<text transform="translate(643.40 688.70) scale(1 1.07)" font-size="8.0" fill="#222" stroke="#222" stroke-width="0.12">iPSCs</text>
<rect x="627.00" y="696.20" width="10.2" height="5.7" fill="#559bff"/>
<text transform="translate(643.40 701.90) scale(1 1.07)" font-size="8.0" fill="#222" stroke="#222" stroke-width="0.12">iMSCs -SB</text>
<rect x="627.00" y="709.40" width="10.2" height="5.7" fill="#00bb00"/>
<text transform="translate(643.40 715.10) scale(1 1.07)" font-size="8.0" fill="#222" stroke="#222" stroke-width="0.12">iMSCs +SB</text>
<text transform="translate(-0.2 18.8) scale(1.02 1.08)" font-size="25" font-weight="bold" fill="#000" stroke="#000" stroke-width="0.35">A</text>
<text transform="translate(0.8 431.6) scale(1 1.07)" font-size="25" font-weight="bold" fill="#000" stroke="#000" stroke-width="0.35">B</text>
</svg>
</body></html>
